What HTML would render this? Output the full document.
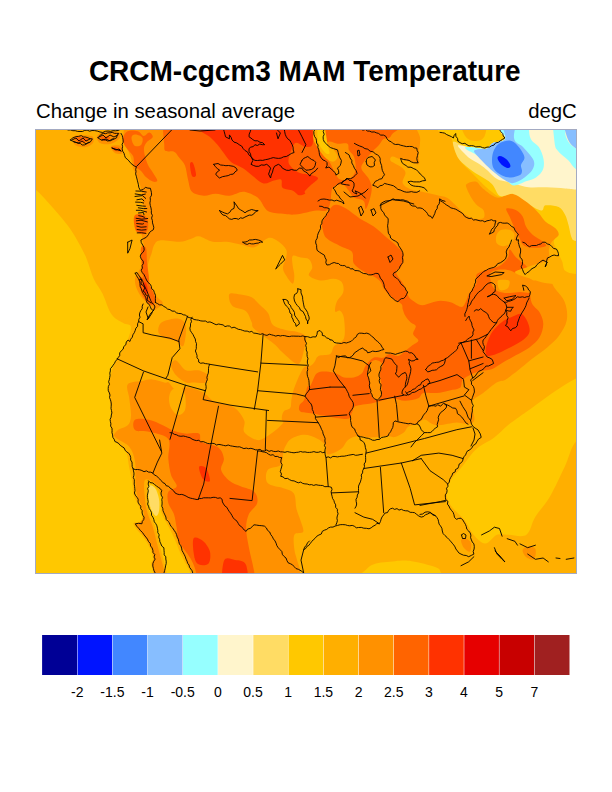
<!DOCTYPE html>
<html><head><meta charset="utf-8"><style>
html,body{margin:0;padding:0;background:#fff;}
svg{display:block;font-family:"Liberation Sans",sans-serif;}
</style></head><body>
<svg width="612" height="792" viewBox="0 0 612 792">
<text x="304.8" y="81" font-size="28" font-weight="bold" text-anchor="middle" transform="translate(0,81) scale(1,1.067) translate(0,-81)">CRCM-cgcm3 MAM Temperature</text>
<text x="36" y="118.2" font-size="20.35">Change in seasonal average</text>
<text x="576.8" y="118.2" font-size="20.35" text-anchor="end">degC</text>
<defs><clipPath id="mc"><rect x="36" y="130" width="540" height="443"/></clipPath></defs>
<g clip-path="url(#mc)">
<rect x="35" y="129" width="542" height="445" fill="#FFAF00"/>
<path d="M90.0,100.0 C6.8,103.0 115.5,111.2 121.0,118.0 C126.5,124.8 122.2,135.7 123.2,140.8 C124.2,145.9 125.9,145.7 127.2,148.6 C128.5,151.5 130.1,155.1 131.1,158.4 C132.1,161.7 132.0,165.3 133.0,168.2 C134.0,171.1 135.7,172.7 137.0,176.0 C138.3,179.3 139.9,183.2 140.9,187.8 C141.9,192.4 142.2,198.6 142.8,203.5 C143.5,208.4 145.1,212.9 144.8,217.2 C144.5,221.4 140.9,222.2 140.9,229.0 C140.9,235.8 146.0,249.7 145.0,258.0 C144.0,266.3 135.7,272.6 135.0,279.0 C134.3,285.4 138.0,291.7 140.9,296.6 C143.8,301.5 151.9,304.5 152.6,308.4 C153.3,312.3 148.8,314.7 145.0,320.0 C141.2,325.3 135.5,333.0 130.0,340.0 C124.5,347.0 115.3,357.4 112.0,362.0 C108.7,366.6 109.4,363.6 109.9,367.8 C110.4,372.0 113.2,380.9 114.8,387.4 C116.4,393.9 120.0,401.1 119.7,407.0 C119.4,412.9 113.9,418.1 113.0,423.0 C112.1,427.9 111.7,432.3 114.4,436.2 C117.1,440.1 125.7,442.3 129.1,446.5 C132.5,450.7 133.9,455.3 135.0,461.2 C136.1,467.1 135.2,476.2 135.5,481.8 C135.8,487.4 136.0,491.0 137.0,495.0 C138.0,499.0 140.3,502.5 141.5,506.0 C142.7,509.5 144.4,513.3 144.0,516.0 C143.6,518.7 140.3,520.5 139.0,522.0 C137.7,523.5 135.3,522.8 136.0,525.0 C136.7,527.2 141.0,532.2 143.0,535.0 C145.0,537.8 146.5,539.0 148.0,541.5 C149.5,544.0 151.0,547.1 152.0,550.0 C153.0,552.9 154.0,556.7 154.0,559.0 C154.0,561.3 152.0,561.7 152.0,564.0 C152.0,566.3 153.7,567.0 154.0,573.0 C154.3,579.0 76.3,595.5 154.0,600.0 C231.7,604.5 542.3,683.3 620.0,600.0 C697.7,516.7 708.3,183.3 620.0,100.0 C531.7,16.7 173.2,97.0 90.0,100.0Z" fill="#FF9100"/>
<path d="M151.7,252.9 C152.8,249.2 153.0,246.7 154.4,244.6 C155.8,242.5 155.8,240.9 160.0,240.4 C164.2,239.9 174.3,242.0 179.4,241.8 C184.5,241.6 187.3,239.9 190.6,239.0 C193.8,238.1 195.2,235.7 198.9,236.2 C202.6,236.7 208.2,240.9 212.8,241.8 C217.4,242.7 222.1,241.3 226.7,241.8 C231.3,242.3 236.0,243.7 240.6,244.6 C245.2,245.5 249.8,248.4 254.4,247.3 C259.0,246.2 264.3,239.0 268.2,238.0 C272.1,237.0 275.0,239.3 278.0,241.2 C281.0,243.1 284.8,246.7 286.1,249.4 C287.5,252.1 286.6,254.6 286.1,257.6 C285.6,260.6 282.9,264.4 282.9,267.4 C282.9,270.4 284.5,272.9 286.1,275.6 C287.7,278.3 291.3,283.7 292.7,283.7 C294.1,283.7 294.3,278.6 294.3,275.6 C294.3,272.6 293.0,269.1 292.7,265.8 C292.4,262.5 291.3,257.3 292.7,255.9 C294.1,254.5 298.1,257.1 300.8,257.6 C303.5,258.2 307.1,257.6 309.0,259.2 C310.9,260.8 312.3,264.7 312.3,267.4 C312.3,270.1 307.6,273.4 309.0,275.6 C310.4,277.8 316.4,280.0 320.5,280.5 C324.6,281.0 330.0,278.5 333.5,278.8 C337.0,279.1 340.1,279.9 341.7,282.1 C343.3,284.3 344.1,288.6 343.3,291.9 C342.5,295.2 338.2,298.4 336.8,301.7 C335.4,305.0 334.6,310.0 335.2,311.5 C335.8,313.0 338.6,309.6 340.1,310.8 C341.6,312.0 343.4,314.0 344.0,318.6 C344.6,323.2 345.6,333.6 344.0,338.2 C342.4,342.8 336.5,343.5 334.2,346.1 C331.9,348.7 332.9,352.3 330.3,353.9 C327.7,355.5 321.1,354.6 318.5,355.9 C315.9,357.2 315.9,360.1 314.6,361.7 C313.3,363.3 312.7,364.5 310.7,365.7 C308.7,366.9 305.8,364.6 302.8,369.0 C299.9,373.4 295.2,384.8 293.0,391.9 C290.8,399.0 291.8,405.9 289.8,411.5 C287.8,417.1 284.5,421.5 280.8,425.6 C277.1,429.7 271.7,433.6 267.7,436.0 C263.7,438.4 260.9,440.7 257.0,440.0 C253.1,439.3 246.3,435.3 244.2,432.0 C242.1,428.7 245.9,424.5 244.2,420.4 C242.5,416.3 238.7,410.4 233.8,407.3 C228.9,404.2 219.7,404.2 214.6,401.7 C209.5,399.2 207.4,394.7 203.0,392.3 C198.6,389.9 192.8,387.8 188.3,387.4 C183.8,387.0 179.4,390.7 176.1,389.9 C172.8,389.1 170.5,383.7 168.7,382.5 C166.9,381.3 168.1,383.2 165.4,382.7 C162.7,382.2 156.1,379.7 152.3,379.4 C148.5,379.1 146.6,380.2 142.5,381.0 C138.4,381.8 130.0,381.3 127.8,384.3 C125.6,387.3 128.9,393.8 129.4,399.0 C129.9,404.2 131.2,411.1 131.0,415.4 C130.8,419.7 130.2,422.6 128.0,425.0 C125.8,427.4 120.5,428.2 118.0,430.0 C115.5,431.8 114.3,434.3 113.0,436.0 C111.7,437.7 113.0,439.3 110.0,440.0 C107.0,440.7 97.5,458.3 95.0,440.0 C92.5,421.7 90.8,350.0 95.0,330.0 C99.2,310.0 112.5,322.3 120.0,320.0 C127.5,317.7 135.0,317.3 140.0,316.0 C145.0,314.7 147.1,313.3 150.0,312.0 C152.9,310.7 155.1,309.9 157.2,308.4 C159.3,306.9 162.8,304.8 162.8,302.9 C162.8,301.0 159.0,299.6 157.2,297.3 C155.3,295.0 153.1,292.2 151.7,289.0 C150.3,285.8 149.6,281.6 148.9,277.9 C148.2,274.2 147.0,271.0 147.5,266.8 C148.0,262.6 150.5,256.6 151.7,252.9Z" fill="#FFAF00"/>
<path d="M300.0,600.0 C246.7,595.5 300.7,579.5 300.3,573.0 C299.9,566.5 298.4,565.1 297.4,561.2 C296.4,557.3 294.9,553.9 294.4,549.5 C293.9,545.1 292.9,537.8 294.4,534.8 C295.9,531.8 302.2,534.3 303.2,531.8 C304.2,529.3 301.4,523.8 300.3,520.0 C299.2,516.2 297.6,513.4 296.5,509.0 C295.4,504.6 296.1,497.1 293.9,493.6 C291.7,490.2 287.8,490.1 283.4,488.3 C279.0,486.6 270.3,486.2 267.7,483.1 C265.1,480.1 265.5,473.1 267.7,470.0 C269.9,466.9 278.2,467.9 280.8,464.8 C283.4,461.8 282.5,455.0 283.4,451.7 C284.3,448.4 284.7,447.4 286.0,445.2 C287.3,443.0 288.2,440.4 291.3,438.7 C294.4,437.0 300.0,434.8 304.3,434.8 C308.6,434.8 313.9,437.0 317.4,438.7 C320.9,440.4 323.6,442.6 325.3,445.2 C327.1,447.8 325.3,453.8 327.9,454.4 C330.5,455.0 337.6,451.5 341.0,449.1 C344.4,446.7 345.2,442.2 348.0,440.0 C350.8,437.8 354.1,436.4 358.0,436.0 C361.9,435.6 366.3,437.4 371.1,437.4 C375.9,437.4 382.8,436.1 386.8,436.0 C390.8,435.9 392.2,437.6 395.0,437.0 C397.8,436.4 401.6,434.3 403.8,432.6 C406.0,430.9 406.0,428.3 408.2,426.8 C410.4,425.3 414.3,425.0 417.0,423.8 C419.7,422.6 421.9,419.4 424.4,419.4 C426.9,419.4 429.4,422.8 431.8,423.8 C434.2,424.8 436.4,425.3 439.1,425.3 C441.8,425.3 444.9,424.3 447.9,423.8 C450.8,423.3 453.4,422.4 456.8,422.4 C460.2,422.4 465.6,424.3 468.5,423.8 C471.4,423.3 473.9,422.6 474.4,419.4 C474.9,416.2 471.5,408.1 471.5,404.7 C471.5,401.3 472.4,400.8 474.4,398.8 C476.3,396.8 479.5,395.6 483.2,392.9 C486.9,390.2 493.0,384.7 496.6,382.5 C500.2,380.3 502.0,381.5 505.0,379.9 C508.0,378.3 512.1,374.8 514.6,373.0 C517.1,371.2 516.9,371.3 519.7,369.0 C522.5,366.7 526.9,362.8 531.5,359.2 C536.1,355.6 542.6,351.3 547.2,347.4 C551.8,343.5 555.7,340.3 559.0,335.7 C562.3,331.1 565.8,325.6 566.8,320.0 C567.8,314.4 566.8,307.5 564.8,302.3 C562.8,297.1 557.6,292.2 555.0,288.6 C552.4,285.0 552.4,281.9 548.9,280.5 C545.4,279.1 538.8,279.9 534.2,280.5 C529.6,281.1 523.6,284.4 521.1,283.8 C518.6,283.2 518.7,278.8 519.5,277.2 C520.3,275.6 522.7,275.9 526.0,274.0 C529.3,272.1 535.3,268.2 539.1,265.8 C542.9,263.4 547.3,262.0 548.9,259.3 C550.5,256.6 548.3,252.5 548.9,249.5 C549.5,246.5 550.6,243.5 552.2,241.3 C553.8,239.1 556.6,238.3 558.7,236.4 C560.8,234.5 562.0,231.4 565.0,230.0 C568.0,228.6 567.8,228.3 577.0,228.0 C586.2,227.7 612.8,166.0 620.0,228.0 C627.2,290.0 673.3,538.0 620.0,600.0 C566.7,662.0 353.3,604.5 300.0,600.0Z" fill="#FFAF00"/>
<path d="M420.2,110.0 C403.6,114.8 420.4,131.7 420.2,139.0 C420.0,146.3 419.0,149.5 418.8,153.7 C418.6,157.9 419.8,162.5 418.8,164.0 C417.8,165.5 415.8,163.2 412.9,162.5 C409.9,161.8 404.5,160.6 401.1,159.6 C397.7,158.6 394.0,156.4 392.3,156.6 C390.6,156.8 389.3,159.3 390.8,161.0 C392.3,162.7 398.7,165.0 401.1,167.0 C403.6,169.0 405.2,170.1 405.5,172.8 C405.8,175.5 401.9,180.4 402.6,183.1 C403.4,185.8 406.6,187.5 410.0,189.0 C413.4,190.5 418.8,191.0 423.2,192.0 C427.6,193.0 432.4,193.9 436.4,194.9 C440.4,195.9 443.8,196.1 447.0,197.8 C450.2,199.5 452.8,202.7 455.6,205.3 C458.4,207.9 460.8,211.3 463.8,213.5 C466.8,215.7 470.3,217.7 473.6,218.4 C476.9,219.2 481.9,219.4 483.5,218.0 C485.1,216.6 484.6,212.3 483.5,210.2 C482.4,208.1 478.9,207.2 477.0,205.3 C475.1,203.4 473.7,201.5 472.0,198.8 C470.3,196.1 467.9,191.5 467.0,189.0 C466.1,186.5 465.2,185.1 466.7,183.9 C468.2,182.7 473.2,180.8 475.9,181.6 C478.6,182.4 479.4,185.8 482.8,188.5 C486.2,191.2 492.7,196.5 496.5,197.6 C500.3,198.7 502.9,196.1 505.6,195.3 C508.3,194.5 510.2,193.0 512.5,193.0 C514.8,193.0 516.5,194.1 519.4,195.3 C522.3,196.5 526.6,200.9 530.0,200.0 C533.4,199.1 541.7,205.0 540.0,190.0 C538.3,175.0 540.0,123.3 520.0,110.0 C500.0,96.7 436.8,105.2 420.2,110.0Z" fill="#FFAF00"/>
<path d="M496.6,234.8 C497.4,232.6 499.3,230.6 501.5,229.8 C503.7,229.0 507.5,229.0 509.7,229.8 C511.9,230.6 514.3,232.6 514.6,234.8 C514.9,237.0 513.2,241.1 511.3,243.0 C509.4,244.9 505.6,246.2 503.1,246.2 C500.7,246.2 497.7,244.9 496.6,243.0 C495.5,241.1 495.8,237.0 496.6,234.8Z" fill="#FFAF00"/>
<path d="M145.0,480.0 C147.0,477.7 154.0,482.0 157.0,485.0 C160.0,488.0 161.9,493.7 163.0,498.0 C164.1,502.3 162.3,506.7 163.5,511.0 C164.7,515.3 167.8,519.6 170.0,524.0 C172.2,528.4 174.5,533.0 176.5,537.5 C178.5,542.0 180.0,546.6 182.0,551.0 C184.0,555.4 186.7,560.3 188.5,564.0 C190.3,567.7 192.2,568.7 193.0,573.0 C193.8,577.3 197.8,587.2 193.0,590.0 C188.2,592.8 168.8,592.8 164.0,590.0 C159.2,587.2 165.1,578.5 164.5,573.0 C163.9,567.5 161.8,562.2 160.5,557.0 C159.2,551.8 157.8,546.7 156.5,541.5 C155.2,536.3 154.0,530.8 152.5,526.0 C151.0,521.2 148.8,517.5 147.5,513.0 C146.2,508.5 145.4,504.5 145.0,499.0 C144.6,493.5 143.0,482.3 145.0,480.0Z" fill="#FFAF00"/>
<path d="M172.0,390.0 C173.8,388.2 177.8,386.2 180.0,387.0 C182.2,387.8 184.2,391.2 185.0,395.0 C185.8,398.8 186.2,406.7 185.0,410.0 C183.8,413.3 180.3,415.3 178.0,415.0 C175.7,414.7 172.5,410.8 171.0,408.0 C169.5,405.2 168.8,401.0 169.0,398.0 C169.2,395.0 170.2,391.8 172.0,390.0Z" fill="#FFAF00"/>
<path d="M260.0,305.0 C262.7,307.6 265.8,309.7 268.0,313.0 C270.2,316.3 270.1,322.2 273.0,325.0 C275.9,327.8 281.5,328.8 285.6,330.0 C289.7,331.2 294.0,330.8 297.4,332.0 C300.8,333.2 304.9,334.0 306.0,337.0 C307.1,340.0 305.3,345.5 304.0,350.0 C302.7,354.5 301.6,363.6 298.0,364.0 C294.4,364.4 286.6,355.9 282.6,352.5 C278.6,349.1 278.5,347.6 273.8,343.7 C269.1,339.8 258.1,332.6 254.4,329.0 C250.7,325.4 253.1,325.3 251.7,322.3 C250.3,319.3 249.2,314.0 246.0,311.2 C242.8,308.4 235.0,308.6 232.2,305.7 C229.4,302.8 228.0,295.9 229.4,294.0 C230.8,292.1 236.9,294.1 240.6,294.6 C244.3,295.2 248.5,295.6 251.7,297.3 C254.9,299.0 257.3,302.4 260.0,305.0Z" fill="#FF9100"/>
<path d="M158.9,326.2 C159.7,324.2 160.5,322.5 163.8,321.3 C167.1,320.1 174.8,318.0 178.5,318.8 C182.2,319.6 185.1,321.7 185.9,326.2 C186.7,330.7 185.0,343.4 183.4,345.8 C181.8,348.2 178.9,342.1 176.1,340.9 C173.2,339.7 169.2,339.6 166.3,338.4 C163.4,337.2 160.1,335.5 158.9,333.5 C157.7,331.5 158.1,328.2 158.9,326.2Z" fill="#FF9100"/>
<path d="M171.2,365.4 C171.2,362.9 173.6,359.7 176.1,360.5 C178.6,361.3 182.2,368.7 185.9,370.3 C189.6,371.9 194.4,369.5 198.1,370.3 C201.8,371.1 206.7,373.2 207.9,375.2 C209.1,377.2 207.9,381.3 205.5,382.5 C203.1,383.7 196.5,382.5 193.2,382.5 C189.9,382.5 188.8,383.7 185.9,382.5 C183.1,381.3 178.6,378.1 176.1,375.2 C173.6,372.3 171.2,367.8 171.2,365.4Z" fill="#FF9100"/>
<path d="M301.4,378.0 C299.3,380.0 299.0,388.9 297.5,391.8 C296.0,394.8 293.6,393.1 292.5,395.7 C291.4,398.3 292.1,404.9 290.6,407.5 C289.1,410.1 285.2,409.4 283.7,411.4 C282.2,413.3 281.6,416.9 281.8,419.2 C282.0,421.5 285.0,423.0 284.7,425.1 C284.4,427.2 277.2,430.9 279.8,432.0 C282.4,433.1 293.3,433.2 300.0,432.0 C306.7,430.8 318.0,428.7 320.0,425.0 C322.0,421.3 314.5,415.0 312.0,410.0 C309.5,405.0 305.3,400.0 305.0,395.0 C304.7,390.0 310.6,382.8 310.0,380.0 C309.4,377.2 303.5,376.0 301.4,378.0Z" fill="#FF9100"/>
<path d="M73.0,137.0 C74.2,135.8 77.5,135.2 80.0,135.0 C82.5,134.8 85.8,135.2 88.0,135.5 C90.2,135.8 92.2,135.8 93.0,137.0 C93.8,138.2 94.2,141.3 93.0,143.0 C91.8,144.7 88.7,146.5 86.0,147.0 C83.3,147.5 79.2,146.8 77.0,146.0 C74.8,145.2 73.7,143.5 73.0,142.0 C72.3,140.5 71.8,138.2 73.0,137.0Z" fill="#FF9100"/>
<path d="M97.0,136.0 C97.7,134.2 101.2,132.8 104.0,132.0 C106.8,131.2 111.3,131.3 114.0,131.5 C116.7,131.7 119.2,131.8 120.0,133.0 C120.8,134.2 120.7,137.2 119.0,139.0 C117.3,140.8 113.2,143.3 110.0,144.0 C106.8,144.7 102.2,144.3 100.0,143.0 C97.8,141.7 96.3,137.8 97.0,136.0Z" fill="#FF9100"/>
<path d="M110.8,147.0 C111.0,145.7 114.1,145.3 116.0,145.3 C117.9,145.3 121.2,145.6 122.2,147.0 C123.2,148.4 123.2,152.5 122.0,153.5 C120.8,154.5 116.9,154.1 115.0,153.0 C113.1,151.9 110.6,148.3 110.8,147.0Z" fill="#FF9100"/>
<path d="M163.0,110.0 C124.3,113.2 162.8,123.3 163.0,129.0 C163.2,134.7 163.8,140.3 164.2,143.9 C164.6,147.5 163.6,149.4 165.3,150.7 C167.0,152.0 172.2,150.8 174.5,151.9 C176.8,153.1 177.3,155.3 179.1,157.6 C180.8,159.9 183.5,161.9 185.0,165.6 C186.5,169.3 186.9,175.7 188.1,180.0 C189.3,184.3 189.4,189.1 192.0,191.7 C194.6,194.3 199.9,195.4 203.8,195.7 C207.7,196.0 211.3,193.7 215.6,193.7 C219.8,193.7 224.7,196.0 229.3,195.7 C233.9,195.4 238.8,191.7 243.0,191.7 C247.2,191.7 252.0,194.3 254.8,195.7 C257.6,197.1 257.8,197.4 260.0,200.0 C262.2,202.6 264.1,208.9 268.3,211.2 C272.5,213.5 280.6,213.4 285.0,214.0 C289.4,214.6 291.4,214.8 295.0,214.5 C298.6,214.2 303.2,213.2 306.8,212.5 C310.4,211.8 313.3,210.9 316.6,210.6 C319.9,210.3 324.1,211.9 326.4,210.6 C328.7,209.3 329.2,206.5 330.3,202.7 C331.4,198.9 330.7,190.8 332.7,187.8 C334.7,184.8 339.8,184.1 342.5,184.6 C345.2,185.1 347.1,188.9 349.0,191.1 C350.9,193.3 351.4,196.0 353.9,197.6 C356.3,199.2 361.7,199.0 363.7,200.9 C365.7,202.8 364.7,209.5 365.8,209.0 C366.9,208.5 369.2,201.4 370.2,197.8 C371.2,194.2 371.9,190.7 371.7,187.5 C371.5,184.3 370.5,181.9 368.8,178.7 C367.1,175.5 362.1,171.3 361.4,168.4 C360.7,165.5 362.7,163.7 364.4,161.0 C366.1,158.3 369.3,154.9 371.7,152.2 C374.1,149.5 377.0,147.1 379.0,144.9 C381.0,142.7 381.4,140.7 383.5,139.0 C385.6,137.3 389.6,139.7 391.5,134.9 C393.4,130.1 433.1,114.2 395.0,110.0 C356.9,105.8 201.7,106.8 163.0,110.0Z" fill="#FF6400"/>
<path d="M123.0,138.2 C123.6,136.1 125.1,132.5 127.6,131.3 C130.1,130.2 135.2,130.5 137.9,131.3 C140.6,132.1 141.7,135.7 143.6,135.9 C145.5,136.1 147.8,132.2 149.3,132.4 C150.8,132.6 153.2,135.4 152.8,137.0 C152.4,138.6 148.5,140.2 147.0,142.0 C145.5,143.8 144.3,145.7 144.0,148.0 C143.7,150.3 144.3,153.2 145.0,156.0 C145.7,158.8 146.7,162.2 148.0,165.0 C149.3,167.8 151.2,169.9 152.8,172.5 C154.4,175.1 157.3,179.0 157.3,180.5 C157.3,182.0 154.7,182.2 152.8,181.6 C150.9,181.0 147.8,178.8 145.9,177.1 C144.0,175.4 143.2,173.2 141.3,171.3 C139.4,169.4 135.8,168.1 134.5,165.6 C133.2,163.1 134.4,159.1 133.3,156.5 C132.2,153.9 129.6,152.1 128.0,150.0 C126.5,147.9 124.8,146.0 124.0,144.0 C123.2,142.0 122.4,140.3 123.0,138.2Z" fill="#FF6400"/>
<path d="M132.0,136.0 C132.8,134.9 135.2,134.4 137.0,134.7 C138.8,135.0 141.8,136.3 142.5,138.0 C143.2,139.7 142.2,143.7 141.0,145.0 C139.8,146.3 136.5,146.7 135.0,146.0 C133.5,145.3 132.5,142.7 132.0,141.0 C131.5,139.3 131.2,137.1 132.0,136.0Z" fill="#FF9100"/>
<path d="M322.5,222.3 C323.8,219.0 328.0,211.5 330.3,208.6 C332.6,205.7 333.6,204.7 336.2,204.7 C338.8,204.7 342.1,206.3 346.0,208.6 C349.9,210.9 355.1,215.4 359.7,218.4 C364.3,221.4 368.8,223.0 373.4,226.3 C378.0,229.6 383.3,234.7 387.2,238.0 C391.1,241.3 394.1,243.5 396.8,246.2 C399.5,248.9 402.5,251.1 403.3,254.4 C404.1,257.7 402.9,262.9 401.7,265.8 C400.5,268.7 395.8,269.1 396.0,272.0 C396.2,274.9 400.9,280.0 402.7,283.1 C404.5,286.2 405.5,288.5 406.6,290.9 C407.7,293.3 407.7,295.5 409.2,297.5 C410.7,299.5 413.6,301.4 415.8,302.7 C418.0,304.0 419.7,305.3 422.3,305.3 C424.9,305.3 428.3,303.5 431.4,302.7 C434.4,301.9 437.3,300.7 440.6,300.7 C443.9,300.7 447.9,301.4 451.4,302.5 C454.9,303.6 459.2,307.2 461.7,307.0 C464.1,306.8 464.9,303.2 466.1,301.0 C467.3,298.8 467.3,296.6 469.0,293.7 C470.7,290.8 475.1,286.7 476.4,283.4 C477.7,280.1 474.7,276.4 477.0,274.0 C479.3,271.6 486.2,270.4 490.0,269.0 C493.8,267.6 497.0,267.7 500.0,265.8 C503.0,263.9 506.4,260.3 508.0,257.6 C509.6,254.9 508.3,249.5 509.7,249.5 C511.1,249.5 513.5,254.9 516.2,257.6 C518.9,260.3 523.8,263.6 526.0,265.8 C528.2,268.0 528.7,267.9 529.3,270.7 C529.9,273.5 529.1,277.4 529.5,282.7 C529.9,288.0 529.9,297.4 531.5,302.3 C533.1,307.2 537.4,308.5 539.4,312.1 C541.4,315.7 543.3,319.6 543.3,323.9 C543.3,328.1 541.7,333.7 539.4,337.6 C537.1,341.5 533.4,344.4 529.5,347.4 C525.6,350.3 520.4,352.7 515.8,355.3 C511.2,357.9 506.0,360.8 502.1,363.1 C498.2,365.4 495.8,367.7 492.3,369.0 C488.8,370.3 484.6,370.1 481.0,371.0 C477.4,371.9 473.6,373.2 470.5,374.7 C467.4,376.2 464.4,377.7 462.6,379.9 C460.9,382.1 462.2,386.1 460.0,387.8 C457.8,389.6 453.5,389.5 449.6,390.4 C445.7,391.3 440.9,392.6 436.5,393.0 C432.1,393.4 426.4,392.1 423.4,393.0 C420.3,393.9 421.2,396.9 418.2,398.2 C415.1,399.5 409.5,400.8 405.1,400.8 C400.8,400.8 396.0,398.2 392.1,398.2 C388.2,398.2 385.1,399.9 381.6,400.8 C378.1,401.7 375.5,402.5 371.1,403.4 C366.8,404.3 358.7,404.6 355.5,406.1 C352.3,407.7 353.5,410.6 351.9,412.7 C350.3,414.8 352.8,418.9 346.0,419.0 C339.2,419.1 318.8,414.6 311.2,413.3 C303.6,412.0 302.4,412.7 300.4,411.4 C298.4,410.1 298.8,407.5 299.4,405.5 C300.0,403.5 303.0,402.7 304.3,399.6 C305.6,396.5 306.2,389.3 307.3,386.9 C308.4,384.5 309.1,387.5 310.7,385.3 C312.2,383.1 314.0,375.8 316.6,373.5 C319.2,371.2 323.1,371.5 326.4,371.5 C329.7,371.5 333.3,372.5 336.2,373.5 C339.1,374.5 341.1,376.8 344.0,377.4 C346.9,378.0 350.9,378.0 353.8,377.4 C356.8,376.8 359.7,375.4 361.7,373.5 C363.7,371.6 363.7,368.3 365.6,365.7 C367.6,363.1 370.5,359.1 373.4,357.8 C376.3,356.5 380.6,358.5 383.2,357.8 C385.8,357.1 386.6,354.2 389.1,353.9 C391.6,353.6 395.3,356.5 398.0,356.0 C400.7,355.5 403.0,352.7 405.3,351.0 C407.6,349.3 409.6,347.5 411.8,345.8 C414.0,344.1 418.2,342.6 418.4,340.6 C418.6,338.6 413.5,336.4 413.1,334.0 C412.7,331.6 416.2,328.1 415.8,326.2 C415.4,324.2 412.2,324.0 410.5,322.3 C408.8,320.6 406.6,318.0 405.3,315.8 C404.0,313.6 403.4,311.2 402.7,309.2 C402.0,307.2 403.1,305.9 401.4,304.0 C399.6,302.1 395.0,299.9 392.2,297.5 C389.4,295.1 386.3,292.2 384.4,289.6 C382.4,287.0 382.2,284.0 380.5,281.8 C378.8,279.6 376.7,278.2 373.9,276.5 C371.1,274.8 367.0,273.6 363.6,271.4 C360.2,269.2 355.8,266.8 353.8,263.5 C351.9,260.2 354.2,254.6 351.9,251.7 C349.6,248.8 344.2,248.2 340.0,245.9 C335.8,243.6 329.3,240.9 326.4,238.0 C323.5,235.1 323.1,230.8 322.5,228.2 C321.9,225.6 321.2,225.6 322.5,222.3Z" fill="#FF6400"/>
<path d="M506.4,208.6 C507.5,207.5 513.5,208.8 516.2,210.2 C518.9,211.6 521.2,214.1 522.8,216.8 C524.4,219.5 524.4,223.6 526.0,226.6 C527.6,229.6 529.9,232.4 532.6,234.8 C535.3,237.2 540.2,239.4 542.4,241.3 C544.6,243.2 547.5,245.1 545.6,246.2 C543.7,247.3 534.7,248.1 530.9,247.8 C527.1,247.5 524.7,246.2 522.8,244.6 C520.9,243.0 520.9,240.7 519.5,238.0 C518.1,235.3 516.2,231.7 514.6,228.2 C513.0,224.7 511.1,220.1 509.7,216.8 C508.3,213.5 505.3,209.7 506.4,208.6Z" fill="#FF6400"/>
<path d="M135.0,419.7 C137.3,418.0 144.3,418.8 148.9,419.7 C153.5,420.6 158.6,423.3 162.8,425.2 C167.0,427.1 170.2,429.4 173.9,430.8 C177.6,432.2 180.8,433.1 185.0,433.6 C189.2,434.1 196.1,432.2 198.9,433.6 C201.7,435.0 198.5,439.6 201.7,441.9 C204.9,444.2 214.6,444.6 218.3,447.4 C222.0,450.2 223.4,454.9 223.9,458.6 C224.4,462.3 220.2,466.0 221.1,469.7 C222.0,473.4 226.2,478.0 229.4,480.8 C232.7,483.6 236.4,484.5 240.6,486.3 C244.8,488.1 251.6,489.1 254.4,491.9 C257.2,494.7 258.1,499.3 257.2,503.0 C256.3,506.7 250.8,509.9 248.9,514.1 C247.1,518.3 246.1,522.5 246.1,528.0 C246.1,533.5 247.5,539.9 248.9,547.4 C250.3,554.9 253.4,565.9 254.4,573.0 C255.4,580.1 264.7,587.2 255.0,590.0 C245.3,592.8 205.8,592.8 196.0,590.0 C186.2,587.2 197.0,578.2 196.1,573.0 C195.2,567.8 193.4,563.8 190.6,558.6 C187.8,553.4 181.7,547.0 179.4,541.9 C177.1,536.8 177.6,532.6 176.7,528.0 C175.8,523.4 175.3,518.3 173.9,514.1 C172.5,509.9 169.2,506.7 168.3,503.0 C167.4,499.3 166.9,494.7 168.3,491.9 C169.7,489.1 176.2,489.1 176.7,486.3 C177.2,483.5 172.5,479.8 171.1,475.2 C169.7,470.6 168.8,464.6 168.3,458.6 C167.8,452.6 171.4,443.5 168.3,439.1 C165.2,434.7 155.6,433.5 150.0,432.0 C144.4,430.5 137.5,432.1 135.0,430.0 C132.5,427.9 132.7,421.4 135.0,419.7Z" fill="#FF6400"/>
<path d="M370.9,362.6 C369.5,364.7 367.9,369.4 367.6,372.4 C367.3,375.4 368.6,377.6 369.2,380.6 C369.8,383.6 370.3,387.7 370.9,390.4 C371.4,393.1 371.4,395.3 372.5,396.9 C373.6,398.5 376.0,400.2 377.4,400.2 C378.8,400.2 380.0,399.1 380.7,396.9 C381.4,394.7 381.8,390.9 381.7,387.1 C381.6,383.3 379.9,377.8 380.0,374.0 C380.1,370.2 383.0,366.5 382.3,364.2 C381.6,361.9 377.9,360.3 376.0,360.0 C374.1,359.7 372.3,360.5 370.9,362.6Z" fill="#FF9100"/>
<path d="M461.0,540.0 C461.3,538.5 464.3,538.2 466.0,538.7 C467.7,539.2 470.3,540.9 471.0,543.0 C471.7,545.1 471.2,550.8 470.0,551.6 C468.8,552.4 465.5,549.9 464.0,548.0 C462.5,546.1 460.7,541.5 461.0,540.0Z" fill="#FF9100"/>
<path d="M491.8,527.0 C492.3,525.3 495.3,523.2 497.0,523.0 C498.7,522.8 501.3,524.2 502.0,526.0 C502.7,527.8 502.3,532.4 501.0,533.6 C499.7,534.8 495.5,534.1 494.0,533.0 C492.5,531.9 491.3,528.7 491.8,527.0Z" fill="#FF9100"/>
<path d="M522.6,550.0 C522.9,548.2 525.9,546.6 528.0,546.4 C530.1,546.2 534.4,546.9 535.4,549.0 C536.4,551.1 535.6,558.0 534.0,559.3 C532.4,560.6 527.9,558.5 526.0,557.0 C524.1,555.5 522.3,551.8 522.6,550.0Z" fill="#FF9100"/>
<path d="M490.0,274.0 C490.7,271.2 494.0,270.7 497.0,270.0 C500.0,269.3 504.8,269.5 508.0,270.0 C511.2,270.5 513.2,272.0 516.0,273.0 C518.8,274.0 522.0,274.7 525.0,276.0 C528.0,277.3 531.0,278.8 534.0,281.0 C537.0,283.2 542.0,287.2 543.0,289.0 C544.0,290.8 542.2,291.3 540.0,292.0 C537.8,292.7 533.3,293.0 530.0,293.0 C526.7,293.0 523.3,292.0 520.0,292.0 C516.7,292.0 513.3,293.0 510.0,293.0 C506.7,293.0 502.8,293.0 500.0,292.0 C497.2,291.0 494.7,290.0 493.0,287.0 C491.3,284.0 489.3,276.8 490.0,274.0Z" fill="#FF9100"/>
<path d="M497.7,281.1 C498.3,279.6 500.9,279.8 502.9,279.8 C504.8,279.8 508.5,279.8 509.4,281.1 C510.3,282.4 509.2,286.2 508.1,287.7 C507.0,289.2 504.4,290.1 502.9,290.3 C501.4,290.5 499.9,290.5 499.0,289.0 C498.1,287.5 497.1,282.6 497.7,281.1Z" fill="#FFAF00"/>
<path d="M515.0,272.0 C515.5,270.7 520.8,269.5 525.0,268.0 C529.2,266.5 534.2,264.7 540.0,263.0 C545.8,261.3 553.8,259.2 560.0,258.0 C566.2,256.8 574.2,252.0 577.0,256.0 C579.8,260.0 579.8,277.3 577.0,282.0 C574.2,286.7 565.3,283.8 560.0,284.0 C554.7,284.2 549.7,283.8 545.0,283.0 C540.3,282.2 535.8,280.2 532.0,279.0 C528.2,277.8 524.8,277.2 522.0,276.0 C519.2,274.8 514.5,273.3 515.0,272.0Z" fill="#FFAF00"/>
<path d="M134.0,217.0 C134.7,214.2 137.8,213.8 140.0,214.0 C142.2,214.2 145.7,215.7 147.0,218.0 C148.3,220.3 148.5,225.3 148.0,228.0 C147.5,230.7 146.0,233.5 144.0,234.0 C142.0,234.5 137.7,233.8 136.0,231.0 C134.3,228.2 133.3,219.8 134.0,217.0Z" fill="#FF6400"/>
<path d="M141.0,248.0 C141.7,244.7 145.0,245.7 146.0,248.0 C147.0,250.3 146.5,256.7 147.0,262.0 C147.5,267.3 149.0,275.2 149.0,280.0 C149.0,284.8 147.8,290.5 147.0,291.0 C146.2,291.5 144.8,286.8 144.0,283.0 C143.2,279.2 142.5,273.8 142.0,268.0 C141.5,262.2 140.3,251.3 141.0,248.0Z" fill="#FF6400"/>
<path d="M139.0,278.0 C139.7,275.8 143.0,277.3 145.0,279.0 C147.0,280.7 149.3,284.8 151.0,288.0 C152.7,291.2 154.7,295.2 155.0,298.0 C155.3,300.8 154.3,304.3 153.0,305.0 C151.7,305.7 149.0,304.2 147.0,302.0 C145.0,299.8 142.3,296.0 141.0,292.0 C139.7,288.0 138.3,280.2 139.0,278.0Z" fill="#FF6400"/>
<path d="M75.0,138.0 C75.8,137.2 80.8,136.8 83.0,137.0 C85.2,137.2 87.5,138.2 88.0,139.0 C88.5,139.8 87.7,141.5 86.0,142.0 C84.3,142.5 79.8,142.7 78.0,142.0 C76.2,141.3 74.2,138.8 75.0,138.0Z" fill="#FF6400"/>
<path d="M100.0,137.0 C100.7,136.2 106.3,135.7 108.0,136.0 C109.7,136.3 110.7,138.2 110.0,139.0 C109.3,139.8 105.7,141.3 104.0,141.0 C102.3,140.7 99.3,137.8 100.0,137.0Z" fill="#FF6400"/>
<path d="M112.0,147.0 C112.7,146.5 117.5,147.3 119.0,148.0 C120.5,148.7 121.7,150.5 121.0,151.0 C120.3,151.5 116.5,151.7 115.0,151.0 C113.5,150.3 111.3,147.5 112.0,147.0Z" fill="#FF6400"/>
<path d="M199.9,110.0 C181.6,113.2 198.3,124.5 199.9,129.0 C201.5,133.5 206.8,134.2 209.7,136.8 C212.6,139.4 215.2,142.1 217.5,144.7 C219.8,147.3 221.1,149.6 223.4,152.5 C225.7,155.4 228.0,159.7 231.3,162.3 C234.6,164.9 239.4,165.9 243.0,168.2 C246.6,170.5 249.4,173.5 252.8,176.0 C256.2,178.5 260.0,182.7 263.5,183.4 C267.0,184.2 270.9,181.1 273.8,180.5 C276.8,179.9 279.7,178.5 281.2,179.7 C282.7,180.9 280.6,186.0 282.6,187.8 C284.6,189.7 290.3,189.6 293.0,190.8 C295.7,192.0 296.8,194.7 298.8,195.2 C300.8,195.7 304.0,194.4 305.0,193.7 C306.0,193.0 303.8,192.6 304.9,191.1 C306.0,189.6 309.2,186.8 311.4,184.6 C313.6,182.4 318.3,179.6 318.0,178.0 C317.7,176.4 312.8,175.6 309.8,174.8 C306.8,174.0 303.1,174.4 300.0,173.1 C296.9,171.8 293.4,169.4 291.5,167.2 C289.6,165.0 288.0,163.9 288.5,160.0 C289.0,156.1 292.2,146.2 294.4,143.7 C296.6,141.2 299.8,144.6 301.8,145.2 C303.8,145.8 304.6,147.5 306.5,147.0 C308.4,146.5 312.4,148.2 313.0,142.0 C313.6,135.8 328.7,115.3 309.8,110.0 C290.9,104.7 218.2,106.8 199.9,110.0Z" fill="#FF3200"/>
<path d="M190.0,164.0 C190.2,161.8 192.0,161.2 193.0,163.0 C194.0,164.8 196.2,172.8 196.0,175.0 C195.8,177.2 193.0,177.8 192.0,176.0 C191.0,174.2 189.8,166.2 190.0,164.0Z" fill="#FF3200"/>
<path d="M143.0,284.0 C143.2,282.3 145.2,281.7 146.0,283.0 C146.8,284.3 148.2,290.3 148.0,292.0 C147.8,293.7 145.8,294.3 145.0,293.0 C144.2,291.7 142.8,285.7 143.0,284.0Z" fill="#FF3200"/>
<path d="M486.4,345.5 C487.4,341.6 489.7,335.6 492.3,331.7 C494.9,327.8 498.5,324.5 502.1,321.9 C505.7,319.3 510.6,317.3 513.9,316.0 C517.2,314.7 519.4,313.1 521.7,314.1 C524.0,315.1 526.3,319.1 527.6,322.0 C528.9,324.9 530.1,328.8 529.5,331.7 C528.9,334.6 526.3,337.3 523.7,339.6 C521.1,341.9 517.5,343.5 513.9,345.5 C510.3,347.5 505.7,349.8 502.1,351.4 C498.5,353.0 494.9,354.6 492.3,355.3 C489.7,356.0 487.4,356.9 486.4,355.3 C485.4,353.7 485.4,349.4 486.4,345.5Z" fill="#FF3200"/>
<path d="M193.3,539.0 C194.5,535.5 200.2,538.8 203.0,541.0 C205.8,543.2 209.2,548.2 210.0,552.0 C210.8,555.8 210.3,562.3 208.0,564.0 C205.7,565.7 198.4,566.2 196.0,562.0 C193.6,557.8 192.1,542.5 193.3,539.0Z" fill="#FF3200"/>
<path d="M223.9,561.0 C225.7,556.0 231.3,559.3 235.0,560.0 C238.7,560.7 244.3,560.0 246.1,565.0 C247.9,570.0 249.7,585.8 246.0,590.0 C242.3,594.2 227.7,594.8 224.0,590.0 C220.3,585.2 222.1,566.0 223.9,561.0Z" fill="#FF3200"/>
<path d="M199.0,467.0 C199.5,465.2 204.2,465.7 206.0,468.0 C207.8,470.3 210.5,479.0 210.0,480.8 C209.5,482.6 204.8,481.3 203.0,479.0 C201.2,476.7 198.5,468.8 199.0,467.0Z" fill="#FF3200"/>
<path d="M327.8,142.0 C330.2,140.4 334.3,143.4 337.6,143.7 C340.9,144.0 345.5,142.6 347.4,143.7 C349.3,144.8 347.9,148.0 349.0,150.2 C350.1,152.4 352.9,153.5 354.0,156.8 C355.1,160.1 356.2,166.3 355.6,169.8 C355.1,173.3 353.2,176.3 350.7,178.0 C348.2,179.7 343.2,180.2 340.8,179.7 C338.4,179.2 337.9,177.8 336.0,174.8 C334.1,171.8 331.6,165.2 329.4,161.7 C327.2,158.1 323.2,156.8 322.9,153.5 C322.6,150.2 325.4,143.6 327.8,142.0Z" fill="#FF9100"/>
<path d="M314.7,110.0 C316.6,105.8 322.9,105.2 324.5,110.0 C326.1,114.8 323.1,132.4 324.5,138.8 C325.9,145.2 330.5,145.6 332.7,148.6 C334.9,151.6 337.6,154.6 337.6,156.8 C337.6,159.0 334.9,161.7 332.7,161.7 C330.5,161.7 327.2,159.5 324.5,156.8 C321.8,154.1 318.2,148.9 316.3,145.3 C314.4,141.8 313.3,141.4 313.0,135.5 C312.7,129.6 312.8,114.2 314.7,110.0Z" fill="#FFAF00"/>
<path d="M318.0,120.0 C318.8,116.6 321.4,115.8 323.0,120.0 C324.6,124.2 326.7,139.7 327.8,145.3 C328.9,150.9 329.9,152.4 329.4,153.5 C328.8,154.6 326.4,154.1 324.5,151.9 C322.6,149.7 319.1,145.7 318.0,140.4 C316.9,135.1 317.2,123.4 318.0,120.0Z" fill="#FFC800"/>
<path d="M20.0,180.0 C22.5,113.2 30.5,185.8 35.0,189.3 C39.5,192.8 42.9,196.8 46.8,201.0 C50.7,205.2 54.6,209.6 58.5,214.3 C62.4,219.0 66.9,224.1 70.3,229.0 C73.7,233.9 76.4,238.8 79.1,243.7 C81.8,248.6 84.0,252.5 86.5,258.4 C89.0,264.3 91.1,273.1 93.8,279.0 C96.5,284.9 99.6,287.8 102.6,293.7 C105.5,299.6 108.1,309.4 111.5,314.3 C114.9,319.2 120.0,321.0 123.2,323.1 C126.5,325.2 130.5,323.6 131.0,327.0 C131.5,330.4 128.2,338.9 126.2,343.7 C124.2,348.4 121.0,351.6 118.8,355.5 C116.6,359.4 114.5,363.3 113.0,367.2 C111.5,371.1 110.8,375.1 110.0,379.0 C109.2,382.9 108.5,386.9 108.5,390.8 C108.5,394.7 109.6,398.6 110.0,402.5 C110.4,406.4 110.9,410.2 111.0,414.0 C111.1,417.8 110.3,421.3 110.5,425.0 C110.7,428.7 110.8,432.9 112.0,436.0 C113.2,439.1 115.0,440.9 117.4,443.6 C119.8,446.3 124.2,448.5 126.2,452.4 C128.2,456.3 128.0,461.8 129.1,467.1 C130.2,472.4 131.8,479.4 132.5,484.0 C133.2,488.6 132.4,491.2 133.5,495.0 C134.6,498.8 137.6,502.8 139.0,506.5 C140.4,510.2 141.8,514.4 142.0,517.0 C142.2,519.6 141.4,521.0 140.0,522.0 C138.6,523.0 134.1,521.8 133.5,523.0 C132.9,524.2 135.0,526.8 136.5,529.0 C138.0,531.2 140.8,533.8 142.5,536.0 C144.2,538.2 145.6,540.1 147.0,542.5 C148.4,544.9 150.0,547.8 151.0,550.5 C152.0,553.2 153.0,556.8 153.0,559.0 C153.0,561.2 151.0,561.7 151.0,564.0 C151.0,566.3 153.2,568.7 153.0,573.0 C152.8,577.3 172.2,587.2 150.0,590.0 C127.8,592.8 41.7,658.3 20.0,590.0 C-1.7,521.7 17.5,246.8 20.0,180.0Z" fill="#FFC800"/>
<path d="M148.3,483.5 C149.8,481.6 153.9,484.8 156.1,487.4 C158.3,490.0 160.5,495.0 161.4,499.1 C162.3,503.2 160.3,507.8 161.4,512.2 C162.5,516.6 165.7,520.9 167.9,525.3 C170.1,529.7 172.4,534.0 174.4,538.4 C176.4,542.8 177.7,547.0 179.7,551.4 C181.7,555.8 184.5,560.9 186.2,564.5 C187.9,568.1 189.5,568.8 190.1,573.0 C190.7,577.2 193.9,587.2 190.0,590.0 C186.1,592.8 170.5,592.8 166.6,590.0 C162.7,587.2 167.2,578.5 166.6,573.0 C165.9,567.5 164.0,562.0 162.7,556.7 C161.4,551.4 160.1,546.2 158.8,541.0 C157.5,535.8 156.3,530.1 154.8,525.3 C153.3,520.5 150.9,516.6 149.6,512.2 C148.3,507.8 147.2,503.9 147.0,499.1 C146.8,494.3 146.8,485.4 148.3,483.5Z" fill="#FFC800"/>
<path d="M149.0,486.0 C150.1,484.3 153.3,485.8 155.0,488.0 C156.7,490.2 158.3,495.2 159.0,499.0 C159.7,502.8 159.5,508.2 159.0,511.0 C158.5,513.8 157.3,516.3 156.0,516.0 C154.7,515.7 152.2,512.0 151.0,509.0 C149.8,506.0 148.8,501.8 148.5,498.0 C148.2,494.2 147.9,487.7 149.0,486.0Z" fill="#FFDC64"/>
<path d="M447.0,496.5 C446.5,492.1 447.6,486.7 450.0,481.8 C452.4,476.9 458.3,471.5 461.7,467.1 C465.1,462.7 467.6,458.8 470.5,455.4 C473.4,452.0 475.5,449.4 479.4,446.5 C483.3,443.6 489.4,441.1 494.0,437.7 C498.6,434.3 503.6,428.9 507.0,426.0 C510.4,423.1 509.9,423.6 514.6,420.2 C519.3,416.8 528.3,410.4 535.2,405.5 C542.1,400.6 548.8,395.4 555.8,390.8 C562.8,386.2 569.6,381.5 577.0,378.0 C584.4,374.5 596.2,359.7 600.0,370.0 C603.8,380.3 603.8,428.2 600.0,440.0 C596.2,451.8 582.9,436.1 577.0,440.6 C571.1,445.1 569.1,457.8 564.6,467.1 C560.1,476.4 554.9,488.2 550.0,496.5 C545.1,504.8 539.1,510.7 535.2,517.1 C531.3,523.5 530.8,531.8 526.4,534.8 C522.0,537.8 513.7,534.8 508.8,534.8 C503.9,534.8 500.9,533.3 497.0,534.8 C493.1,536.3 489.1,543.6 485.2,543.6 C481.3,543.6 476.9,538.7 473.5,534.8 C470.1,530.9 468.0,524.4 464.6,520.0 C461.2,515.6 455.8,512.2 452.9,508.3 C450.0,504.4 447.5,500.9 447.0,496.5Z" fill="#FFC800"/>
<path d="M340.0,590.0 C326.2,587.2 356.4,577.3 362.0,573.0 C367.6,568.7 368.3,566.2 373.8,564.2 C379.3,562.2 388.7,561.7 395.0,561.2 C401.3,560.7 405.0,560.2 411.7,561.2 C418.4,562.2 430.3,565.1 435.2,567.1 C440.1,569.1 439.5,569.2 441.1,573.0 C442.7,576.8 461.9,587.2 445.0,590.0 C428.1,592.8 353.8,592.8 340.0,590.0Z" fill="#FFC800"/>
<path d="M437.0,110.0 C464.2,106.8 572.8,82.7 600.0,110.0 C627.2,137.3 603.8,246.7 600.0,274.0 C596.2,301.3 582.8,274.6 577.0,274.0 C571.2,273.4 567.7,272.9 565.2,270.7 C562.7,268.5 563.4,264.2 562.0,260.9 C560.6,257.6 558.4,254.4 557.0,251.1 C555.6,247.8 553.5,244.0 553.8,241.3 C554.1,238.6 558.4,237.0 558.7,234.8 C559.0,232.6 557.6,230.4 555.4,228.2 C553.2,226.0 548.3,224.1 545.6,221.7 C542.9,219.2 541.4,216.2 539.0,213.5 C536.6,210.8 534.2,208.3 531.0,205.3 C527.8,202.3 523.0,197.4 519.5,195.5 C516.0,193.6 513.2,193.8 510.0,194.0 C506.8,194.2 503.0,197.3 500.0,197.0 C497.0,196.7 494.4,193.8 492.0,192.0 C489.6,190.2 487.8,188.7 485.4,186.5 C483.0,184.3 480.2,181.3 477.6,178.7 C475.0,176.1 472.3,173.4 469.7,170.8 C467.1,168.2 464.1,165.6 461.9,163.0 C459.7,160.4 458.2,158.4 456.7,155.1 C455.2,151.8 453.7,146.2 452.8,143.4 C451.9,140.6 452.7,139.9 451.4,138.2 C450.1,136.4 447.3,134.4 444.9,132.9 C442.5,131.4 438.3,132.8 437.0,129.0 C435.7,125.2 409.8,113.2 437.0,110.0Z" fill="#FFC800"/>
<path d="M464.0,127.0 C467.3,125.8 480.5,125.7 484.0,127.0 C487.5,128.3 485.7,132.8 485.0,135.0 C484.3,137.2 482.5,139.7 480.0,140.5 C477.5,141.3 472.7,141.1 470.0,140.0 C467.3,138.9 465.0,136.2 464.0,134.0 C463.0,131.8 460.7,128.2 464.0,127.0Z" fill="#FFAF00"/>
<path d="M453.0,142.0 C453.7,139.9 459.5,144.2 462.0,145.0 C464.5,145.8 465.3,146.5 468.0,147.0 C470.7,147.5 474.8,147.7 478.0,148.0 C481.2,148.3 484.7,149.4 487.0,148.6 C489.3,147.8 490.2,144.5 492.0,143.4 C493.8,142.3 496.0,142.6 498.0,142.0 C500.0,141.4 502.8,140.8 504.0,140.0 C505.2,139.2 505.7,138.7 505.0,137.0 C504.3,135.3 501.2,134.5 500.0,130.0 C498.8,125.5 481.3,113.3 498.0,110.0 C514.7,106.7 583.0,87.5 600.0,110.0 C617.0,132.5 603.8,223.1 600.0,245.0 C596.2,266.9 581.7,242.5 577.0,241.3 C572.3,240.1 573.2,240.7 571.8,238.0 C570.4,235.3 569.6,228.8 568.5,225.0 C567.4,221.2 566.8,218.1 565.2,215.1 C563.6,212.1 562.0,208.6 558.7,207.0 C555.4,205.4 548.3,204.8 545.6,205.3 C542.9,205.8 544.0,209.6 542.4,210.2 C540.8,210.8 538.8,210.2 535.8,208.6 C532.8,207.0 528.2,202.8 524.4,200.4 C520.6,198.0 517.1,194.6 513.0,193.9 C508.9,193.2 503.5,197.7 500.0,196.0 C496.5,194.3 495.5,187.4 491.9,183.9 C488.3,180.4 482.3,177.6 478.2,174.8 C474.1,172.0 470.5,169.7 467.1,166.9 C463.7,164.1 460.4,162.0 458.0,157.8 C455.6,153.7 452.3,144.1 453.0,142.0Z" fill="#FFDC64"/>
<path d="M458.0,145.5 C458.7,144.5 464.7,146.6 468.0,147.0 C471.3,147.4 474.8,147.7 478.0,148.0 C481.2,148.3 484.7,149.4 487.0,148.6 C489.3,147.8 490.2,144.5 492.0,143.4 C493.8,142.3 496.0,142.6 498.0,142.0 C500.0,141.4 502.8,140.8 504.0,140.0 C505.2,139.2 505.7,138.7 505.0,137.0 C504.3,135.3 501.2,134.5 500.0,130.0 C498.8,125.5 481.3,113.3 498.0,110.0 C514.7,106.7 583.0,96.7 600.0,110.0 C617.0,123.3 603.8,176.7 600.0,190.0 C596.2,203.3 582.8,189.8 577.0,189.6 C571.2,189.3 570.0,188.9 565.0,188.5 C560.0,188.1 552.9,187.5 546.8,187.3 C540.7,187.1 533.5,187.8 528.5,187.3 C523.5,186.8 520.8,185.5 517.0,184.5 C513.2,183.5 509.2,182.3 506.0,181.5 C502.8,180.7 500.3,180.6 498.0,179.5 C495.7,178.4 493.8,176.6 492.0,175.0 C490.2,173.4 489.0,171.8 487.0,170.0 C485.0,168.2 482.8,166.4 480.0,164.5 C477.2,162.6 472.7,160.4 470.0,158.5 C467.3,156.6 466.0,155.2 464.0,153.0 C462.0,150.8 457.3,146.5 458.0,145.5Z" fill="#FFF5CC"/>
<path d="M516.6,110.0 C521.4,110.0 524.8,105.5 527.0,110.0 C529.2,114.5 528.0,130.8 530.0,137.0 C532.0,143.2 536.8,143.6 539.0,147.3 C541.2,151.0 542.8,155.3 543.5,159.0 C544.2,162.7 544.2,166.4 543.0,169.5 C541.8,172.6 538.8,175.5 536.0,177.5 C533.2,179.5 529.7,180.0 526.0,181.3 C522.3,182.6 517.3,185.7 514.0,185.5 C510.7,185.3 508.7,181.9 506.0,180.0 C503.3,178.1 500.7,176.2 498.0,174.0 C495.3,171.8 492.7,169.3 490.0,167.0 C487.3,164.7 484.5,162.2 482.0,160.0 C479.5,157.8 477.3,155.6 475.0,154.0 C472.7,152.4 469.7,151.6 468.0,150.5 C466.3,149.4 464.5,148.1 465.0,147.5 C465.5,146.9 468.8,146.9 471.0,147.0 C473.2,147.1 475.3,147.7 478.0,148.0 C480.7,148.3 484.7,149.4 487.0,148.6 C489.3,147.8 490.2,144.5 492.0,143.4 C493.8,142.3 496.0,142.6 498.0,142.0 C500.0,141.4 502.8,141.0 504.0,140.0 C505.2,139.0 505.7,137.8 505.0,136.0 C504.3,134.2 501.2,133.3 500.0,129.0 C498.8,124.7 495.2,113.2 498.0,110.0 C500.8,106.8 511.8,110.0 516.6,110.0Z" fill="#96FFFF"/>
<path d="M553.0,110.0 C554.6,104.7 561.8,105.5 564.0,110.0 C566.2,114.5 563.8,130.5 566.0,137.0 C568.2,143.5 573.0,146.8 577.0,149.0 C581.0,151.2 587.8,146.2 590.0,150.0 C592.2,153.8 592.2,168.7 590.0,172.0 C587.8,175.3 580.7,172.0 577.0,170.0 C573.3,168.0 571.2,163.2 568.0,160.0 C564.8,156.8 560.2,154.0 558.0,151.0 C555.8,148.0 555.3,148.8 554.5,142.0 C553.7,135.2 551.4,115.3 553.0,110.0Z" fill="#96FFFF"/>
<path d="M498.0,110.0 C500.0,105.8 514.3,105.3 517.0,110.0 C519.7,114.7 513.0,131.8 514.0,138.0 C515.0,144.2 519.8,143.3 523.0,147.0 C526.2,150.7 531.9,156.2 533.5,160.0 C535.1,163.8 534.0,166.6 532.5,169.5 C531.0,172.4 527.2,175.4 524.5,177.5 C521.8,179.6 518.8,181.1 516.5,182.0 C514.2,182.9 513.2,183.5 511.0,183.0 C508.8,182.5 505.7,180.7 503.0,179.0 C500.3,177.3 497.8,175.3 495.0,173.0 C492.2,170.7 488.8,167.8 486.0,165.0 C483.2,162.2 480.0,158.8 478.0,156.5 C476.0,154.2 473.7,152.2 474.0,151.0 C474.3,149.8 477.8,149.4 480.0,149.0 C482.2,148.6 485.0,149.5 487.0,148.6 C489.0,147.7 490.2,144.5 492.0,143.4 C493.8,142.3 496.0,142.6 498.0,142.0 C500.0,141.4 502.8,141.2 504.0,140.0 C505.2,138.8 506.0,140.0 505.0,135.0 C504.0,130.0 496.0,114.2 498.0,110.0Z" fill="#87BEFF"/>
<path d="M564.0,110.0 C567.8,105.5 585.7,103.5 590.0,110.0 C594.3,116.5 592.2,142.5 590.0,149.0 C587.8,155.5 580.8,151.0 577.0,149.0 C573.2,147.0 569.2,143.5 567.0,137.0 C564.8,130.5 560.2,114.5 564.0,110.0Z" fill="#87BEFF"/>
<path d="M509.0,140.5 C506.5,140.5 502.5,141.4 500.0,143.0 C497.5,144.6 495.3,147.2 494.0,150.0 C492.7,152.8 492.0,156.8 492.0,160.0 C492.0,163.2 492.3,166.4 494.0,169.0 C495.7,171.6 499.2,174.1 502.0,175.5 C504.8,176.9 508.0,177.6 511.0,177.5 C514.0,177.4 518.2,176.1 520.0,175.0 C521.8,173.9 521.8,172.7 522.0,171.0 C522.2,169.3 520.6,167.2 521.0,165.0 C521.4,162.8 524.5,160.5 524.5,158.0 C524.5,155.5 522.6,152.5 521.0,150.0 C519.4,147.5 517.0,144.6 515.0,143.0 C513.0,141.4 511.5,140.5 509.0,140.5Z" fill="#4287FF"/>
<ellipse cx="504" cy="162" rx="8" ry="3.6" transform="rotate(42 504 162)" fill="#0014FF"/>
<g fill="none" stroke="#000" stroke-width="0.9" stroke-linejoin="round" stroke-linecap="round"><path d="M68.0,130.0 L70.5,129.9 L72.8,130.7 L75.2,130.7 L77.6,131.4 L80.0,131.5 L82.4,131.5 L84.7,130.4 L87.1,130.1 L89.6,131.2 L92.0,130.5 L94.7,130.6 L97.4,131.1 L100.0,132.0 L102.8,132.5 L105.3,131.3 L108.0,131.0 L110.5,131.4 L113.0,130.7 L115.5,130.8 L118.0,130.5 L121.0,129.0"/><path d="M70.3,140.0 L72.8,137.9 L75.8,136.7 L78.6,136.4 L81.3,135.6 L83.3,136.9 L85.8,137.1 L88.0,137.8 L90.1,138.7 L92.4,138.9 L90.2,142.2 L87.3,143.3 L84.6,144.9 L82.2,145.0 L80.3,143.4 L78.0,143.3 L75.3,142.1 L72.5,141.1 L70.3,140.0"/><path d="M97.9,137.8 L99.5,136.1 L101.1,134.3 L103.4,133.4 L105.7,133.7 L107.8,132.8 L110.0,132.9 L112.2,132.3 L114.3,133.3 L116.5,133.4 L118.8,133.4 L117.1,135.3 L116.6,137.8 L114.5,138.8 L112.0,139.0 L110.0,140.4 L107.8,141.1 L105.7,140.0 L103.5,139.8 L101.2,140.0 L97.9,137.8"/><path d="M121.0,133.4 L122.2,135.4 L122.7,137.7 L123.1,139.9 L123.2,142.2 L122.1,144.3 L122.6,146.7 L122.1,148.9 L122.7,151.2 L124.0,153.2 L124.6,155.5 L125.4,157.7 L127.2,159.2 L128.9,160.8 L130.3,162.7 L132.1,164.3 L134.1,165.8 L136.3,167.1 L135.7,169.4 L136.0,171.6 L135.6,173.9 L136.3,176.2 L137.3,180.2 L138.3,184.2 L138.8,187.4 L140.3,190.3 L143.2,189.5 L145.4,187.3 L147.8,188.1 L150.4,188.3 L151.4,192.3 L151.6,195.1 L150.2,197.6 L150.4,200.4 L149.9,203.0 L150.3,205.5 L151.0,208.0 L151.4,210.5 L151.3,213.1 L152.4,215.5 L151.6,218.1 L152.4,220.6 L152.5,222.9 L153.2,225.1 L153.8,227.3 L153.4,229.7 L151.3,231.0 L149.5,232.5 L148.4,234.7 L146.3,237.3 L143.3,238.8 L140.9,240.0 L141.3,242.7 L142.7,245.0 L143.9,247.3 L144.2,250.0 L143.1,252.2 L141.2,253.8 L140.2,256.1 L141.2,258.9 L143.2,261.1 L143.4,263.5 L142.0,265.6 L142.4,268.1 L141.2,270.2 L142.3,272.7 L144.2,274.8 L145.3,277.3 L146.5,280.0 L148.0,282.4 L150.3,284.3 L151.3,286.3 L151.6,288.7 L153.6,290.2 L154.3,292.4 L155.5,295.3 L155.4,298.5 L155.4,302.5"/><path d="M127.7,242.2 L132.1,240.0 L129.9,248.8 L127.7,253.2 L127.7,242.2"/><path d="M135.2,273.2 L136.6,275.8 L138.2,278.3 L139.6,280.8 L140.0,283.6 L140.2,286.4 L141.3,288.7 L142.0,291.1 L143.2,293.4 L144.7,295.5 L145.9,297.8 L146.3,300.5 L147.1,302.9 L149.2,304.4 L150.3,306.6 L151.2,309.0 L153.3,310.6 L155.0,307.0 L154.0,304.6 L152.0,303.0 L150.8,300.8 L149.9,298.5 L149.0,296.2 L148.0,294.0 L147.2,291.7 L146.1,289.4 L145.1,287.2 L144.0,285.0 L143.2,282.9 L142.6,280.7 L141.0,279.0 L140.0,277.0 L138.4,274.8 L137.0,272.5 L135.2,273.2"/><path d="M139.0,280.0 L142.0,279.0 L141.2,281.4 L141.0,284.0 L143.3,285.7 L145.0,288.0 L143.0,291.0 L144.9,292.4 L145.8,294.9 L148.0,296.0 L147.0,300.0 L149.0,301.5 L151.0,303.0"/><path d="M152.3,312.6 L148.3,318.7 L146.0,312.0 L148.0,307.0"/><path d="M154.0,310.0 L151.0,313.0 L149.0,316.0 L147.0,320.0 L149.0,317.0"/><path d="M112.0,148.0 L121.0,151.0"/><path d="M135.9,191.0 L141.3,191.2 L146.2,192.0"/><path d="M135.2,193.9 L141.3,194.9 L145.3,194.1"/><path d="M135.0,196.5 L142.5,195.6 L145.7,198.4"/><path d="M136.9,199.8 L142.0,198.9 L143.9,200.9"/><path d="M135.6,202.1 L140.7,202.3 L143.6,203.0"/><path d="M136.8,205.3 L142.3,206.0 L145.4,206.2"/><path d="M138.3,207.8 L143.7,208.6 L146.8,208.5"/><path d="M136.3,210.3 L140.5,210.3 L146.6,212.0"/><path d="M138.5,213.0 L143.4,212.5 L144.0,214.8"/><path d="M138.7,215.7 L142.0,216.3 L144.4,217.3"/><path d="M136.1,218.3 L141.9,219.2 L147.7,218.5"/><path d="M136.3,220.8 L141.0,220.2 L147.3,221.9"/><path d="M136.7,223.5 L142.3,224.1 L143.5,223.7"/><path d="M136.9,226.2 L141.1,227.2 L146.2,226.8"/><path d="M137.1,229.5 L141.6,230.1 L146.0,229.7"/><path d="M137.2,232.9 L141.4,232.7 L145.9,233.4"/><path d="M72.0,140.0 L76.0,138.0 L79.0,141.0 L83.0,138.0 L86.0,141.0 L90.0,139.0"/><path d="M74.0,142.0 L79.0,143.0 L82.0,141.0 L86.0,144.0 L89.0,142.0"/><path d="M99.0,137.0 L103.0,135.0 L106.0,138.0 L110.0,135.0 L114.0,137.0 L118.0,135.0"/><path d="M102.0,140.0 L106.0,139.0 L110.0,141.0 L114.0,139.0"/><path d="M112.0,148.0 L116.0,150.0 L119.0,149.0 L121.0,151.0"/><path d="M136.5,166.5 L172.6,129.0"/><path d="M143.1,304.0 L142.2,306.2 L142.2,308.7 L140.8,310.6 L139.8,312.8 L139.4,315.0 L140.0,317.3 L138.8,319.4 L138.7,321.6 L137.6,323.7 L137.6,326.3 L135.9,328.2 L135.2,330.5 L134.3,332.7 L132.9,334.8 L132.3,337.2 L130.7,339.2 L129.9,341.5 L128.1,340.0 L126.3,342.0 L125.8,344.8 L123.7,346.6 L123.2,349.1 L121.2,350.9 L119.7,352.9 L119.7,355.6 L118.2,357.6 L117.0,359.5 L115.5,361.2 L114.5,363.3 L113.2,365.1 L111.9,367.0 L110.4,368.7 L110.4,370.9 L109.8,373.1 L110.1,375.3 L109.7,377.5 L109.3,379.7 L108.6,381.8 L109.5,384.2 L108.4,386.3 L108.2,388.5 L108.3,390.8 L109.4,392.9 L110.0,395.1 L109.5,397.5 L110.4,399.6 L111.0,401.8 L111.3,404.0 L111.2,406.2 L111.0,408.4 L111.5,410.6 L111.9,412.9 L111.3,415.0 L111.1,417.2 L110.1,419.3 L110.4,421.6 L110.9,423.8 L110.6,426.1 L112.0,428.2 L112.1,430.4 L112.0,432.7 L112.6,434.9 L112.8,437.3 L114.2,439.3 L114.9,441.5 L117.0,442.4 L118.9,443.6 L120.3,445.4 L122.1,446.6 L124.1,447.9 L125.1,450.2 L126.7,451.9 L128.7,453.2 L130.0,455.2 L130.7,457.5 L130.7,460.0 L132.0,462.1 L132.1,464.3 L132.2,466.6 L133.1,468.7 L133.5,470.9 L134.0,473.1 L133.9,475.3 L133.3,477.5 L134.3,479.7 L134.3,481.9 L134.2,484.1 L134.6,486.3 L134.8,488.5 L135.0,490.7 L134.4,493.0 L135.3,495.2 L136.9,497.2 L138.2,499.2 L138.0,502.1 L139.2,504.3 L140.8,506.2 L140.7,508.6 L142.2,510.6 L142.1,513.0 L142.8,515.2 L144.1,517.2 L143.8,519.5 L142.3,521.5 L141.9,523.8 L138.6,523.3 L135.3,523.8 L136.7,526.2 L138.6,528.2 L140.4,530.5 L142.5,532.5 L144.1,534.9 L145.8,537.0 L147.4,539.1 L148.5,541.5 L150.2,543.4 L150.6,546.0 L152.1,547.9 L152.9,550.3 L153.0,552.6 L154.8,554.5 L154.0,557.1 L155.2,559.1 L153.8,561.2 L152.9,563.5 L152.8,566.0 L153.4,568.4 L154.0,570.8 L155.2,573.0"/><path d="M138.7,321.6 L143.1,323.8 L143.1,332.7 L151.9,334.9 L170.0,338.2 L178.8,341.5"/><path d="M148.5,481.9 L148.2,484.1 L148.9,486.4 L147.6,488.5 L148.3,490.8 L147.9,493.0 L147.4,495.2 L147.4,497.4 L147.8,499.6 L148.2,501.8 L147.6,504.1 L148.5,506.2 L149.2,508.5 L150.5,510.5 L151.5,512.7 L151.5,515.2 L152.9,517.2 L153.8,519.4 L154.3,521.8 L155.8,523.7 L156.9,525.8 L157.4,528.2 L157.8,530.4 L157.8,532.7 L159.2,534.8 L158.7,537.2 L159.6,539.3 L159.9,541.8 L160.9,543.9 L161.8,546.1 L163.9,547.8 L164.0,550.3 L164.2,552.5 L164.2,554.8 L165.8,556.8 L165.8,559.0 L166.2,561.2 L166.2,563.5 L165.6,565.9 L165.2,568.3 L164.6,570.6 L164.0,573.0"/><path d="M148.5,480.8 L150.1,482.6 L152.8,483.0 L154.6,484.5 L156.5,486.0 L158.4,487.4 L160.3,488.7 L161.8,490.7 L161.0,492.9 L161.2,495.1 L162.5,497.3 L161.8,499.6 L162.1,501.8 L162.1,504.0 L161.8,506.2 L162.8,508.3 L163.0,510.7 L163.9,512.8 L164.9,514.9 L165.9,517.0 L166.2,519.4 L167.7,521.0 L169.3,522.6 L170.1,524.7 L171.2,526.6 L172.8,528.2 L174.1,530.3 L175.6,532.4 L176.6,534.6 L177.2,537.1 L178.3,539.2 L178.8,541.6 L179.4,543.9 L180.9,545.8 L181.6,548.1 L182.0,550.5 L183.2,552.6 L184.3,554.7 L185.3,556.8 L186.0,559.1 L187.0,561.1 L187.6,563.2 L189.0,565.0 L189.5,567.2 L190.8,569.0 L192.1,570.8 L192.7,573.0"/><path d="M155.4,302.5 L157.5,303.6 L159.4,304.8 L162.0,304.9 L163.8,306.4 L165.9,307.5 L167.6,309.1 L170.0,309.6 L172.0,311.1 L174.5,311.2 L176.4,312.8 L178.7,313.5 L181.2,313.6 L183.3,314.8 L185.7,315.1 L187.5,317.0 L189.8,317.7 L192.1,318.3 L194.1,319.5 L196.4,319.9 L198.6,320.2 L200.8,320.9 L203.1,321.1 L205.5,321.0 L207.5,322.3 L209.9,321.9 L212.0,322.7 L214.1,323.8 L216.2,324.7 L218.7,324.0 L220.9,324.5 L223.1,324.9 L225.0,326.6 L227.5,325.9 L229.7,326.1 L231.7,327.9 L234.1,327.2 L236.2,328.2 L238.3,329.3 L240.5,329.6 L242.7,330.4 L244.8,331.1 L247.2,331.1 L249.3,332.0 L251.8,331.4 L253.7,333.1 L256.0,333.3 L258.2,333.8 L260.4,334.4 L262.7,333.6 L264.8,334.9 L267.0,335.4 L269.3,334.2 L271.5,334.8 L273.7,335.4 L275.8,336.1 L278.1,335.4 L280.3,336.0 L282.6,335.5 L284.8,335.7 L287.0,336.3 L289.3,336.6 L291.5,336.1 L293.8,336.1 L296.0,336.2 L298.3,336.2 L300.5,336.4 L302.8,335.9 L305.0,336.6 L307.7,336.7 L310.4,337.6 L313.1,336.8 L315.8,337.0 L317.0,334.4 L317.4,331.5 L320.0,330.5 L322.3,333.0 L322.3,335.4 L324.7,336.0 L326.5,337.8 L328.8,338.6 L330.0,339.7"/><path d="M458.7,343.2 L469.7,341.0 L478.5,338.8 L487.4,334.4"/><path d="M445.4,358.7 L447.4,357.7 L449.1,356.3 L450.8,354.8 L452.5,353.4 L454.3,352.1 L455.8,350.5 L457.5,348.9 L457.8,346.4 L459.1,344.6 L460.9,343.2 L463.3,342.2 L465.6,341.1 L467.5,339.3 L469.7,337.8 L471.9,336.6 L473.0,334.5 L472.9,332.0 L474.1,330.0 L472.9,327.8 L472.0,325.5 L471.7,323.0 L470.5,320.8 L469.5,318.6 L469.1,316.1 L467.2,318.2 L465.7,320.6"/><path d="M117.1,358.8 L143.5,370.9 L165.6,378.6 L185.4,385.2 L205.3,390.7"/><path d="M143.5,372.0 L134.7,397.4 L161.2,451.0"/><path d="M187.6,316.1 L178.8,340.0 L179.9,348.8 L172.2,357.6 L167.8,375.3 L165.6,378.6"/><path d="M192.1,317.2 L190.9,319.3 L191.5,321.7 L190.5,323.7 L190.5,326.0 L189.9,328.2 L190.3,330.6 L191.7,332.7 L193.1,334.7 L194.1,336.9 L195.3,339.0 L195.6,341.5 L196.5,343.7 L196.3,346.2 L196.3,348.6 L195.4,351.0 L196.3,353.2 L197.0,355.4 L197.0,357.8 L198.6,359.7 L198.7,362.1 L200.7,363.3 L203.1,362.9 L205.3,363.6 L207.5,363.8 L209.7,364.3 L208.8,366.4 L208.5,368.6 L208.5,370.9 L208.3,373.1 L207.5,375.2 L206.9,377.4 L207.3,379.7 L206.4,381.8 L205.7,384.0 L206.1,386.3 L206.1,388.6 L205.3,390.7"/><path d="M209.7,364.3 L230.0,367.6 L257.6,371.9"/><path d="M185.4,385.2 L170.0,439.3"/><path d="M205.3,390.7 L203.1,399.6 L230.0,405.1 L268.6,410.5"/><path d="M170.0,432.7 L172.3,432.9 L174.3,434.3 L176.5,434.8 L178.6,435.9 L180.9,436.3 L183.3,436.0 L185.6,436.5 L187.7,437.2 L190.0,437.7 L192.0,439.1 L194.1,440.0 L196.3,440.6 L198.8,440.3 L200.7,441.8 L203.2,441.6 L205.3,442.4 L207.4,443.4 L209.7,443.7 L212.1,443.3 L214.4,443.6 L216.5,445.0 L218.9,444.4 L221.2,444.8 L223.5,445.4 L225.8,445.8 L228.2,445.0 L230.4,445.8 L232.7,446.2 L235.0,446.6 L237.3,446.9 L239.6,446.8 L241.8,447.7 L243.9,448.6 L246.3,448.1 L248.5,448.7 L250.9,448.3 L253.1,448.9 L255.3,449.8 L257.6,449.9 L259.9,449.4 L262.1,450.8 L264.4,451.0 L266.8,449.9 L269.0,451.4 L271.3,450.6 L273.6,451.4 L275.9,451.6 L278.2,451.0 L280.4,451.8 L282.7,451.9 L285.0,452.3 L287.3,451.6 L289.6,452.1 L291.8,452.5 L294.0,452.8 L296.2,452.4 L298.4,452.2 L300.6,451.5 L302.8,452.1 L305.0,451.9 L307.2,452.4 L309.5,452.4 L311.7,452.2 L313.9,451.6 L316.1,452.3 L318.3,452.3 L320.5,451.6 L322.7,452.7 L324.9,452.1 L325.2,454.9 L326.0,457.6 L328.2,456.8 L330.6,457.9 L332.8,456.4 L335.1,456.5 L337.4,456.9 L339.7,456.5 L341.9,456.2 L344.2,456.2 L346.5,455.7 L348.7,455.2 L351.0,454.8 L353.2,454.4 L355.6,455.3 L357.9,455.1 L360.1,454.6 L362.4,454.3"/><path d="M218.5,406.2 L209.7,451.0 L203.7,484.1 L198.2,499.6"/><path d="M159.6,440.0 L161.8,453.2 L157.4,462.1 L152.9,473.1"/><path d="M133.1,468.7 L135.2,469.6 L137.5,469.5 L139.8,469.8 L141.9,470.5 L144.0,471.7 L146.5,470.9 L148.5,472.1 L150.8,472.2 L152.9,473.1 L154.3,474.9 L156.5,476.0 L158.2,477.5 L159.8,479.1 L161.4,480.8 L162.8,482.6 L165.0,483.6 L166.1,485.7 L168.6,486.3 L170.1,488.1 L172.0,489.4 L173.7,490.9 L175.0,492.9 L177.1,494.0 L179.3,494.6 L181.8,494.4 L184.0,495.1 L186.1,496.1 L188.1,497.3 L190.3,498.1 L192.6,498.6 L194.8,499.1 L197.1,499.6 L199.2,498.6 L201.5,498.5 L203.6,497.8 L205.9,497.8 L208.3,497.8 L210.7,497.9 L213.1,497.3 L215.4,497.4 L217.8,498.3 L220.2,497.8 L222.1,499.3 L222.4,501.9 L223.5,503.9 L224.8,505.9 L226.8,507.3 L227.9,509.3 L229.1,511.3 L230.5,513.1 L231.9,515.3 L233.0,517.7 L234.9,519.5 L237.0,521.2 L238.3,523.5 L239.5,525.5 L241.4,526.6 L242.9,528.4 L244.3,530.1 L246.1,531.4 L247.6,529.1 L250.3,528.4 L252.2,526.6 L254.0,524.8 L256.6,525.1 L259.2,525.5 L261.8,525.7 L264.4,526.1 L266.4,527.9 L267.5,530.3 L269.7,532.0 L270.7,534.5 L272.3,536.6 L273.4,538.9 L275.0,540.9 L276.1,543.2 L276.9,545.7 L278.3,547.8 L280.1,549.7 L281.9,551.6 L282.3,554.3 L283.9,556.3 L286.0,558.0 L286.9,560.4 L288.0,562.7 L290.3,563.7 L292.5,564.8 L294.2,566.7 L296.0,568.6 L298.4,569.3 L301.2,570.9 L303.7,573.0"/><path d="M230.0,498.4 L252.1,500.6 L257.6,451.0"/><path d="M263.1,334.4 L260.9,363.1 L257.6,390.7 L254.3,409.4"/><path d="M260.9,363.1 L307.2,365.3"/><path d="M257.6,390.7 L296.2,394.0 L305.0,396.2"/><path d="M305.0,336.6 L304.7,338.9 L305.3,341.1 L306.5,343.2 L305.7,345.5 L306.4,347.7 L306.2,350.0 L307.2,352.1 L307.0,354.3 L307.2,356.5 L308.0,358.7 L307.4,360.9 L307.4,363.2 L308.3,365.3 L307.5,367.4 L307.8,369.7 L307.1,371.8 L307.2,374.1 L307.5,376.3 L308.4,378.4 L308.9,380.6 L309.1,382.9 L309.2,385.1 L309.6,387.3 L309.4,389.6 L307.9,391.8 L306.2,393.8 L305.0,396.2 L306.3,398.0 L307.7,399.6 L308.8,401.6 L310.5,403.1 L311.6,405.0 L312.2,407.2 L312.3,409.5 L313.4,411.6 L313.8,413.8 L315.4,415.8 L315.4,418.5 L316.8,420.6 L318.2,422.7 L319.5,424.8 L320.6,427.0 L321.5,429.3 L322.7,431.5 L323.1,433.9 L324.2,436.2 L325.1,438.4 L324.9,441.0 L325.4,443.2 L324.4,445.4 L325.5,447.7 L325.0,449.9 L324.9,452.1"/><path d="M267.5,420.4 L318.2,422.7"/><path d="M266.4,410.5 L265.3,449.9"/><path d="M309.4,389.6 L330.0,387.1"/><path d="M316.0,417.1 L346.9,414.9"/><path d="M344.7,387.1 L346.2,389.2 L347.3,391.4 L348.5,393.7 L349.1,396.2 L350.3,398.3 L351.8,400.4 L353.1,402.5 L353.5,405.0 L353.0,407.5 L351.8,409.6 L350.2,411.6 L349.1,413.8 L350.2,415.9 L350.7,418.1 L350.5,420.4 L351.0,422.7 L351.3,424.9 L352.3,427.3 L354.6,428.9 L355.4,431.4 L356.7,433.6 L357.9,435.9 L359.9,437.3 L360.2,440.0 L362.5,441.1 L364.1,442.8 L365.0,445.0 L365.4,447.7 L366.2,450.3 L366.0,453.1 L365.5,455.3 L365.6,457.5 L365.7,459.8 L365.5,462.0 L364.1,464.0 L364.5,466.4 L363.8,468.5 L362.7,470.6 L362.6,472.9 L361.2,475.0 L361.6,477.4 L361.0,479.7 L360.4,481.9 L359.4,484.0 L358.5,486.1 L358.5,488.4 L358.5,490.6 L358.6,492.9 L357.3,495.0 L357.2,497.2 L356.0,499.3 L356.2,501.6 L356.7,504.0 L356.2,506.1 L355.0,508.2"/><path d="M257.6,451.0 L260.0,451.0 L262.1,451.7 L264.4,452.1 L266.6,452.7 L268.5,454.2 L270.6,455.2 L273.1,454.7 L275.0,456.5 L277.4,456.4 L279.5,457.5 L281.8,457.6 L281.0,459.9 L280.8,462.2 L282.1,464.7 L281.6,467.0 L280.9,469.3 L280.3,471.6 L281.5,474.0 L280.7,476.3 L283.0,476.9 L284.9,478.6 L287.6,478.4 L289.6,479.7 L291.8,480.7 L294.1,480.9 L296.1,481.9 L298.3,482.8 L300.7,482.1 L302.7,483.4 L304.9,483.9 L307.2,484.0 L309.3,484.8 L311.6,484.6 L313.7,485.4 L316.0,484.7 L318.2,485.2 L320.4,485.4 L322.7,485.5 L324.8,486.7 L327.1,486.6 L329.3,486.7 L331.5,487.4 L332.0,489.6 L331.1,491.8 L331.5,494.0 L332.1,496.3 L332.6,498.5 L333.9,500.5 L334.5,502.8 L335.7,504.8 L335.6,507.3 L337.4,509.2 L337.4,511.6 L338.1,513.8 L337.3,515.9 L336.9,518.2 L337.4,520.6 L336.8,522.8 L335.9,524.9"/><path d="M326.0,457.6 L328.2,486.3"/><path d="M331.5,492.9 L357.9,491.8"/><path d="M309.4,541.0 L307.5,542.9 L306.4,545.2 L304.6,547.2 L303.7,549.7 L305.7,548.5 L306.8,546.5 L308.8,545.4 L310.2,543.6 L311.5,541.8 L313.2,539.9 L315.1,538.3 L316.7,536.3 L318.9,535.0 L321.3,534.0 L322.3,531.3 L324.6,530.1 L326.7,529.4 L328.5,527.9 L330.6,527.1 L333.0,527.1 L335.0,526.1 L337.6,525.4 L340.2,524.7 L342.8,524.6 L345.5,524.8 L347.6,525.5 L349.8,525.8 L352.2,525.4 L354.3,526.2 L356.3,527.8 L358.6,527.5 L361.3,527.4 L363.8,528.2 L366.4,528.3 L369.0,528.8 L371.2,527.8 L373.0,526.3 L375.2,525.2 L376.9,523.5 L379.3,523.7 L380.5,521.5 L381.1,519.1 L382.1,516.9 L383.7,514.9 L385.1,513.0 L387.5,512.6 L388.6,510.4 L390.3,508.9 L392.5,508.2 L394.6,509.4 L397.0,508.6 L399.0,510.1 L401.4,509.3 L403.5,510.4 L405.7,510.8 L408.0,510.9 L410.1,512.3 L412.3,512.4 L414.6,512.7 L416.7,514.4 L418.8,516.0 L421.2,517.1 L423.7,516.5 L425.5,514.7 L427.9,513.9 L430.0,512.7 L432.7,514.1 L435.4,515.7"/><path d="M303.7,573.0 L301.0,560.1 L303.7,549.7"/><path d="M330.0,339.7 L332.4,340.2 L334.1,342.4 L336.5,343.0 L338.9,343.2 L341.4,343.5 L343.9,342.5 L346.3,343.0 L348.8,342.2 L351.2,341.3 L352.8,339.7 L354.5,338.1 L356.4,336.7 L357.3,334.4 L359.4,333.2 L361.9,333.2 L364.3,333.6 L366.8,333.1 L369.2,334.0 L371.6,336.1 L374.1,338.1 L375.5,340.0 L377.4,341.3 L379.1,342.9 L380.7,344.6 L382.1,347.2 L383.9,349.5 L381.4,350.1 L379.0,351.1 L375.8,351.6 L372.5,351.1 L370.1,352.2 L367.6,352.8 L366.5,350.6 L364.1,349.7 L362.7,347.9 L359.4,349.5 L357.0,351.2 L354.5,352.8 L353.3,354.9 L351.6,356.4 L349.6,357.7 L347.3,357.7 L345.4,355.9 L343.1,356.0 L340.5,356.5 L338.2,357.7 L336.5,356.0"/><path d="M336.5,356.0 L349.6,357.7 L362.7,361.0 L369.2,365.8 L370.9,370.8 L367.6,374.0"/><path d="M370.9,362.6 L369.5,364.9 L368.5,367.3 L368.3,369.9 L367.6,372.4 L367.5,375.3 L368.6,377.9 L369.2,380.6 L369.8,383.0 L369.3,385.6 L369.8,388.1 L370.9,390.4 L370.7,392.7 L372.0,394.7 L372.5,396.9 L374.7,398.9 L377.4,400.2 L378.9,398.4 L380.7,396.9 L381.5,394.4 L381.4,392.0 L380.4,389.6 L380.7,387.1 L381.1,384.8 L379.6,382.8 L379.2,380.6 L379.9,378.3 L379.0,376.2 L379.0,374.0 L379.9,371.6 L380.9,369.2 L380.8,366.4 L382.3,364.2 L383.7,362.2 L384.2,359.7 L385.6,357.7 L387.8,358.1 L390.0,358.5 L392.1,359.3 L393.4,361.7 L395.1,363.9 L397.0,365.8 L396.8,368.6 L396.6,371.4 L395.4,374.0 L397.2,375.4 L398.6,377.3 L400.1,375.5 L401.9,374.0 L405.2,372.4 L406.4,374.4 L406.8,376.6 L406.8,378.9 L405.9,381.6 L405.4,384.3 L405.2,387.1 L403.4,388.9 L402.3,391.1 L401.9,393.6 L404.2,395.0 L406.8,395.3"/><path d="M385.6,352.8 L388.1,353.0 L390.6,353.1 L393.0,353.7 L395.4,354.4 L397.8,353.5 L400.3,352.8 L402.8,352.0 L405.2,351.1 L407.4,351.4 L409.4,352.8 L411.7,352.8 L413.6,354.2 L415.0,356.0 L416.1,358.1 L418.2,359.3 L415.9,359.4 L413.9,360.7 L411.7,361.0 L408.4,359.3 L409.4,361.4 L409.1,363.8 L410.1,365.8 L410.9,368.5 L410.7,371.3 L410.1,374.0 L409.5,376.2 L408.9,378.4 L408.4,380.6 L407.8,383.0 L406.9,385.3 L405.2,387.1"/><path d="M406.8,393.6 L408.4,391.9 L410.9,391.3 L412.5,389.5 L414.8,388.8 L416.6,387.2 L418.2,385.5 L420.6,384.8 L421.7,382.2 L423.8,381.1 L425.6,379.6 L428.0,378.9 L429.1,380.9 L430.0,382.9 L427.9,384.5 L426.0,386.2 L423.4,386.9 L421.5,388.8 L419.0,389.6 L416.9,391.0 L414.7,392.2 L412.1,392.5 L410.2,394.1 L407.9,395.1 L405.7,391.8"/><path d="M425.6,369.7 L427.0,367.8 L428.4,365.9 L430.5,364.7 L432.2,363.1 L434.4,362.7 L436.7,362.3 L439.0,362.1 L441.0,360.9 L443.4,360.2 L445.4,358.7 L445.1,361.0 L444.5,363.3 L443.2,365.3 L440.8,366.4 L438.5,367.8 L436.6,369.7 L434.4,370.2 L432.1,370.3 L430.0,371.3 L427.8,371.9 L425.6,369.7"/><path d="M336.5,356.0 L334.9,365.8 L333.3,370.8 L338.2,378.9 L344.7,387.1"/><path d="M330.0,387.1 L344.7,387.1"/><path d="M352.9,395.3 L369.2,393.6"/><path d="M379.0,400.2 L403.5,395.3"/><path d="M427.8,384.0 L440.0,380.5 L457.0,374.6 L463.5,379.2"/><path d="M460.9,342.6 L468.8,360.9 L470.1,370.1 L472.7,377.9"/><path d="M468.8,360.9 L483.1,357.0"/><path d="M470.1,368.8 L483.1,363.5"/><path d="M471.4,340.0 L471.4,358.3"/><path d="M476.6,340.0 L483.1,350.5"/><path d="M377.1,400.6 L379.3,438.1"/><path d="M423.4,385.2 L425.9,395.9 L428.8,406.2 L464.1,395.9"/><path d="M428.8,406.2 L431.3,405.8 L433.7,405.7 L436.2,406.2 L437.6,404.7 L440.6,406.2 L443.5,403.2 L446.5,404.7 L446.5,407.1 L445.0,409.1 L442.9,410.9 L440.6,412.6 L439.1,415.0 L438.2,417.3 L438.6,419.7 L437.9,422.0 L437.2,424.4 L437.6,426.8 L435.5,427.9 L433.8,429.6 L432.2,431.3 L430.3,432.6 L427.4,432.6 L424.4,432.6 L422.5,431.2 L421.1,429.4 L420.2,427.1 L419.1,425.1 L417.0,423.8"/><path d="M357.9,435.9 L360.6,436.7 L363.3,437.2 L366.0,438.0 L368.3,438.3 L370.4,439.1 L372.5,440.2 L374.8,440.3 L377.0,439.5 L379.5,439.5 L381.3,437.6 L383.6,437.1 L385.9,436.7 L388.1,435.9 L389.0,433.7 L390.6,431.8 L391.5,429.7 L392.7,427.6 L393.2,425.3 L393.3,422.7 L395.0,420.9 L397.9,421.8 L400.9,422.4 L403.3,422.9 L405.8,423.3 L408.2,423.8 L410.4,423.4 L412.6,424.1 L414.8,424.5 L417.0,423.8 L418.2,421.5 L420.5,420.1 L422.0,418.0 L423.0,415.9 L424.3,414.1 L425.9,412.4 L427.2,410.5 L427.9,408.3 L428.8,406.2"/><path d="M424.4,432.6 L421.5,435.6 L414.1,442.9 L411.0,447.0"/><path d="M366.0,453.1 L395.0,445.9 L424.4,438.5 L456.8,429.7 L471.5,426.8"/><path d="M394.7,396.2 L396.5,404.7 L398.0,421.0"/><path d="M445.0,404.7 L447.8,405.1 L450.3,406.5 L452.7,408.0 L455.6,408.3 L457.0,410.8 L457.4,413.6 L459.7,415.2 L461.8,417.1 L464.4,420.6 L465.8,422.8 L468.0,424.2"/><path d="M460.0,401.2 L462.7,406.5 L466.2,411.8 L468.0,417.1 L470.6,420.6"/><path d="M463.6,380.0 L464.4,387.1 L468.9,389.7 L464.4,395.0 L471.5,400.3"/><path d="M473.0,428.0 L475.0,434.0 L474.0,440.0 L471.0,446.0"/><path d="M487.4,334.4 L486.2,336.4 L484.8,338.4 L483.1,340.0 L482.8,342.3 L483.3,344.5 L484.4,346.5 L484.0,349.2 L483.1,351.8 L485.2,354.3 L487.1,357.0 L489.9,358.0 L492.3,359.6 L493.6,363.5 L491.0,364.8 L488.5,366.0 L485.8,366.1 L484.1,368.4 L481.8,370.1 L478.7,371.4 L476.6,374.0 L475.1,376.4 L472.7,377.9 L470.6,380.0 L471.5,382.1 L471.5,384.4 L473.3,386.3 L474.2,388.8 L474.4,392.0 L473.3,395.0 L472.4,397.6 L471.5,400.3 L472.0,403.1 L473.3,405.6 L472.3,408.2 L472.4,410.9 L471.7,414.0 L471.5,417.1 L470.6,420.6 L471.5,424.2 L473.3,426.8 L475.9,428.6 L478.0,429.9 L479.1,431.9 L480.3,433.9 L481.2,437.4 L478.5,439.1 L476.8,441.8 L475.5,444.1 L473.3,445.4 L471.8,447.9 L469.7,450.0 L467.5,450.9 L466.4,452.8 L465.6,454.9 L464.1,456.6 L463.1,458.6 L462.6,460.9 L461.3,462.7 L459.2,464.0 L458.7,466.3 L457.8,468.4 L455.5,469.5 L455.2,471.9 L452.8,473.0 L452.1,475.2 L450.8,477.3 L449.7,479.5 L449.3,482.1 L447.7,484.0 L448.0,486.3 L446.5,488.3 L447.1,490.7 L446.7,492.9 L445.3,494.9 L445.4,497.2 L445.7,499.6 L447.9,501.3 L447.4,504.1 L448.9,506.0 L449.9,508.2 L451.4,510.3 L453.1,512.3 L454.0,514.8 L454.5,517.5 L456.5,519.3 L458.7,518.4 L461.0,518.2 L462.8,520.0 L464.1,522.2 L465.4,524.3 L466.3,526.6 L466.8,529.2 L468.7,531.0 L470.2,532.9 L470.9,535.1 L470.6,537.7 L471.4,539.9 L472.3,542.0 L473.9,543.9 L474.3,546.5 L474.1,549.0 L473.2,551.5 L473.9,554.1 L471.3,555.4 L468.7,556.7 L466.2,555.5 L463.5,555.2 L461.0,554.1 L458.8,552.9 L457.4,550.9 L455.9,549.0 L455.0,546.9 L453.7,544.9 L452.2,543.2 L450.8,541.3 L448.8,539.4 L447.0,537.4 L445.0,535.6 L443.1,533.6 L442.3,531.0 L441.9,528.3 L440.5,525.9 L439.1,524.1 L438.6,521.8 L438.1,519.5 L436.9,517.5 L435.4,515.7 L432.6,514.9 L430.6,512.4 L427.7,511.8 L425.0,512.2 L422.7,514.0 L420.0,514.4"/><path d="M472.7,380.5 L483.1,372.7"/><path d="M363.8,468.5 L401.3,463.0 L421.2,458.6"/><path d="M380.4,467.4 L383.7,512.7"/><path d="M401.3,463.0 L410.2,488.4 L414.6,504.9 L445.4,501.6"/><path d="M421.2,458.6 L430.0,470.7 L443.2,479.6 L447.7,484.0"/><path d="M412.4,460.8 L421.2,455.3 L438.8,453.1 L452.1,455.3 L463.1,458.6"/><path d="M420.0,505.4 L440.5,501.5 L445.7,500.3"/><path d="M355.0,512.7 L363.8,517.1 L372.6,519.3 L379.3,523.7"/><path d="M473.9,556.7 L468.7,561.8 L461.0,565.7"/><path d="M461.5,535.0 L463.5,533.5 L466.0,535.0 L465.5,538.5 L462.5,538.5 L461.5,535.0"/><path d="M481.6,534.9 L489.3,531.0 L494.4,527.2 L499.5,528.5 L502.1,536.2"/><path d="M507.2,538.7 L514.9,541.3 L517.5,545.2"/><path d="M520.0,543.9 L527.7,547.7 L535.4,545.2"/><path d="M494.4,547.7 L497.0,554.1 L502.1,559.3 L505.0,562.0 L500.0,556.0 L495.0,551.0"/><path d="M527.7,554.1 L535.4,559.3 L543.1,558.0 L548.3,561.8"/><path d="M556.0,558.0 L560.0,558.5"/><path d="M566.2,559.3 L573.9,558.0"/><path d="M511.6,240.0 L510.8,242.4 L509.8,244.7 L508.9,247.1 L507.2,249.0 L506.2,251.9 L506.8,255.0 L505.5,258.9 L503.0,261.0 L500.3,262.8 L497.7,263.6 L496.0,266.0 L493.8,267.4 L491.1,268.1 L488.5,268.9 L486.3,270.3 L483.9,271.3 L482.0,273.3 L480.2,274.7 L478.7,276.5 L476.8,277.9 L475.5,279.8 L475.7,282.1 L474.6,284.2 L474.2,286.4 L472.9,288.6 L472.0,291.0 L470.2,292.9 L469.5,295.2 L469.4,297.7 L468.6,300.0 L468.3,302.4 L467.6,304.7 L467.4,307.1 L466.8,309.4 L465.9,311.7 L464.8,313.9 L465.0,316.4"/><path d="M518.4,240.0 L518.3,242.4 L518.9,244.6 L519.5,246.9 L520.6,249.0 L520.6,252.0 L519.9,255.0 L520.1,257.4 L522.0,259.2 L522.5,261.5 L522.4,264.3 L521.2,266.8 L522.5,269.4 L523.5,272.2 L525.1,274.6 L526.9,272.8 L529.2,271.5 L530.8,269.5 L533.0,268.1 L535.4,267.0 L536.9,264.7 L538.8,263.1 L540.8,261.5 L543.0,260.1 L545.2,261.3 L547.5,262.4 L545.8,264.4 L545.2,266.9 L546.5,264.8 L546.4,262.4 L546.8,260.1 L547.5,257.9 L549.8,257.0 L551.9,255.7 L554.1,255.0 L556.4,255.6 L558.6,255.7 L558.4,253.3 L557.6,251.1 L556.4,249.0 L553.8,248.5 L551.9,246.7 L550.0,244.7 L547.3,243.9 L545.2,242.2 L542.7,242.2 L540.8,243.9 L538.5,244.5 L536.4,245.5 L534.0,245.5 L531.6,245.6 L529.5,246.7 L527.2,245.3 L525.4,243.2 L522.8,242.2"/><path d="M487.2,275.9 L495.1,272.0 L504.2,272.6 L501.6,274.6 L491.1,276.6 L487.2,275.9"/><path d="M468.9,306.0 L470.5,304.2 L471.3,301.9 L472.6,299.9 L474.2,298.1 L475.3,296.1 L476.8,294.2 L478.5,292.2 L480.6,290.7 L482.7,289.2 L484.2,287.0 L485.9,285.1 L488.2,283.3 L491.1,282.5 L493.3,283.4 L495.1,285.1 L495.3,288.4 L495.1,291.6 L493.0,292.7 L491.5,294.7 L489.5,296.1 L487.2,296.8 L489.3,295.7 L491.5,294.7 L493.8,294.2 L496.9,295.5 L499.0,298.1 L501.6,300.1 L504.2,302.1 L506.5,302.3 L508.6,301.3 L510.8,300.8 L513.2,299.8 L515.4,298.6 L517.3,296.8 L519.9,297.3 L522.5,296.8 L524.7,297.5 L526.9,296.7 L529.1,296.8 L530.0,294.3 L530.4,291.6 L528.6,290.0 L527.7,287.7 L525.4,285.9 L522.5,285.1 L523.3,287.7 L523.8,290.3"/><path d="M504.2,298.1 L509.4,296.8 L516.0,295.5 L512.1,299.4 L506.8,300.8 L504.2,298.1"/><path d="M506.8,307.3 L510.1,307.3 L513.4,307.3 L511.6,308.9 L510.8,311.2 L508.1,310.9 L505.5,309.9 L506.8,312.3 L506.7,315.3 L508.1,317.7 L507.1,320.3 L507.0,323.2 L505.5,325.6 L507.8,326.8 L509.2,328.9 L510.8,330.8 L512.5,328.5 L515.5,327.7 L517.3,325.6 L517.5,323.2 L518.3,320.9 L519.1,318.7 L519.9,316.4 L521.2,314.2 L522.4,312.0 L523.8,309.9 L525.0,307.7 L526.0,305.5 L526.6,303.0 L527.7,300.8 L529.1,298.1"/><path d="M474.2,311.2 L476.1,309.7 L478.8,310.2 L480.7,308.6 L483.1,310.8 L485.9,312.5 L487.8,314.1 L488.6,316.4 L489.5,318.6 L491.1,320.4 L493.4,322.4 L496.4,323.0 L497.4,320.6 L498.8,318.6 L500.9,317.1 L502.4,315.1 L504.5,313.6 L505.5,311.2 L506.8,307.3 L506.0,304.5 L504.2,302.1"/><path d="M496.4,323.0 L491.1,329.5 L487.2,335.0 L487.4,334.4"/><path d="M440.0,200.6 L442.4,201.9 L444.5,203.5 L446.7,205.1 L448.9,206.4 L450.9,207.9 L453.4,208.5 L455.8,209.2 L457.9,210.5 L460.1,211.8 L462.8,213.6 L464.6,216.3 L466.8,217.6 L469.1,218.5 L471.5,218.2 L473.4,220.0 L475.8,219.7 L478.0,220.3 L480.3,220.9 L482.7,220.7 L484.8,221.9 L486.9,220.8 L489.3,220.4 L491.5,219.7 L493.6,220.8 L496.0,220.8 L495.2,223.0 L494.8,225.4 L493.7,227.5 L491.6,229.3 L490.6,231.8 L489.3,234.2 L491.5,233.1 L493.7,232.0 L494.4,229.5 L495.7,227.4 L497.6,225.5 L498.2,223.0 L500.4,222.4 L502.7,223.1 L504.9,223.2 L507.2,223.0 L509.6,224.3 L511.4,226.4 L513.9,227.5 L514.9,230.1 L516.4,232.3 L518.4,234.2 L516.9,237.0 L516.1,240.0 L518.4,240.0"/><path d="M440.0,132.4 L442.4,132.7 L444.7,133.2 L446.7,134.6 L449.0,135.6 L451.3,136.6 L453.4,138.0 L454.1,135.5 L455.7,133.5 L455.9,136.3 L457.6,138.6 L457.9,141.3 L460.0,142.6 L462.2,143.7 L464.9,143.3 L466.9,144.7 L469.0,145.9 L471.4,145.6 L473.7,145.9 L475.8,146.9 L478.1,146.7 L480.4,146.7 L482.6,147.7 L484.8,148.0 L487.0,147.1 L489.4,147.1 L491.5,145.8 L494.0,145.1 L495.6,142.9 L498.2,142.4 L500.3,140.8 L502.6,139.3 L504.9,138.0 L503.3,136.0 L502.7,133.5 L500.7,131.5 L499.3,129.0"/><path d="M319.5,206.2 L322.0,206.4 L324.3,207.7 L326.9,207.8 L329.3,208.6 L328.7,211.3 L326.9,213.5 L326.0,215.6 L324.5,217.3 L323.1,219.0 L322.0,220.9 L321.8,223.5 L320.4,225.7 L320.6,228.4 L319.5,230.7 L318.3,233.1 L317.5,235.5 L317.2,238.2 L315.8,240.5 L315.7,243.0 L316.6,245.4 L316.7,247.9 L317.1,250.3 L319.4,252.1 L321.9,253.7 L324.4,255.2 L325.1,257.6 L326.3,259.9 L325.8,262.7 L326.9,265.0 L329.5,264.7 L331.8,263.3 L334.2,262.5 L336.3,263.3 L338.5,263.5 L340.3,265.2 L342.5,265.6 L344.8,265.6 L346.6,267.2 L348.9,267.4 L350.7,268.9 L353.1,268.8 L354.8,270.6 L357.1,270.6 L359.3,271.0 L361.2,272.3 L363.5,273.5 L366.2,273.7 L368.5,274.8 L371.0,274.9 L373.4,274.3 L375.8,273.3 L378.3,273.6 L379.5,275.7 L380.3,278.1 L382.0,280.0 L383.2,282.1 L384.0,284.6 L384.3,287.2 L385.7,289.5 L387.4,291.9 L389.0,294.4 L390.6,296.8 L393.0,298.5 L395.2,300.5 L397.9,301.7 L399.5,300.1 L401.2,298.7 L403.7,298.4 L405.3,296.8 L406.6,294.4 L407.7,291.9 L406.0,290.4 L405.3,288.1 L403.9,286.3 L402.0,285.0 L400.5,283.3 L399.6,281.1 L397.9,279.5 L396.3,277.9 L394.2,276.7 L393.0,274.8 L394.1,272.6 L396.5,271.7 L397.9,269.9 L399.4,268.3 L400.2,266.1 L401.5,264.3 L402.8,262.5 L402.9,260.1 L402.4,257.6 L403.1,255.1 L402.8,252.7 L401.7,250.2 L400.2,247.9 L398.6,245.6 L397.9,242.9 L395.5,241.2 L392.9,239.9 L390.6,238.0 L390.1,235.5 L388.4,233.3 L388.1,230.7 L387.9,228.2 L387.6,225.8 L388.0,223.3 L388.2,220.9 L388.1,218.4 L386.1,216.8 L384.6,214.9 L383.7,212.5 L381.9,210.8 L380.8,208.6 L380.8,206.1 L380.8,203.7 L383.0,202.2 L385.4,201.1 L388.1,200.8 L390.8,200.4 L393.0,198.8 L395.4,199.8 L397.9,199.7 L400.4,199.9 L402.9,199.8 L405.3,200.5 L407.7,201.3 L409.5,202.7 L410.5,204.9 L412.6,206.0 L415.2,206.1 L417.4,208.0 L420.0,207.9 L422.5,208.6 L424.2,210.2 L426.0,211.6 L427.4,213.5 L428.5,215.7 L431.0,216.4 L432.3,218.4 L433.6,216.0 L434.8,213.5 L435.5,210.8 L437.2,208.6 L437.4,206.0 L439.2,203.9 L439.5,201.4 L439.6,198.8 L442.1,200.4 L445.0,201.3"/><path d="M388.0,257.0 L391.0,255.0 L393.0,259.0 L390.0,262.5 L388.0,257.0"/><path d="M358.7,208.0 L361.0,206.0 L363.6,212.0 L361.0,216.0 L358.7,208.0"/><path d="M371.0,210.0 L374.0,208.6 L376.0,213.0 L373.0,216.0 L371.0,210.0"/><path d="M344.0,192.0 L350.0,197.0 L358.0,196.0 L365.0,192.0 L368.0,189.0"/><path d="M360.9,129.0 L362.9,130.2 L365.5,129.5 L367.4,131.0 L369.7,131.2 L371.8,132.1 L374.2,131.9 L376.3,132.8 L378.5,133.4 L380.7,135.1 L383.5,135.1 L385.9,136.4 L387.0,138.8 L388.8,140.8 L391.3,141.8 L393.2,143.7 L395.6,144.5 L398.2,144.3 L400.6,145.2 L403.5,145.9 L406.5,146.6 L409.4,146.4 L412.4,146.6 L414.4,147.9 L416.8,148.1 L417.1,150.4 L418.2,152.5 L417.5,155.4 L416.8,158.4 L417.2,160.7 L418.2,162.8 L413.8,162.8 L411.3,161.9 L409.1,160.4 L406.5,159.9 L403.5,159.5 L400.6,158.4 L401.3,160.6 L402.1,162.8 L404.0,164.4 L406.1,165.6 L407.9,167.2 L411.0,167.2 L413.8,168.7 L416.3,169.7 L418.2,171.6 L420.2,174.0 L422.6,176.1 L424.5,178.0 L425.6,180.5 L422.6,180.8 L419.7,181.9 L416.8,181.9 L413.8,181.9 L410.9,181.2 L407.9,181.9 L410.9,184.9 L413.2,185.9 L415.7,186.3 L418.2,186.4 L421.2,186.9 L424.1,187.8 L427.1,190.8"/><path d="M318.0,201.0 L320.8,199.3 L324.0,199.0 L326.7,199.4 L329.3,200.1 L332.0,200.0 L334.2,201.0 L336.7,200.2 L339.0,201.0 L341.8,202.0 L344.0,204.0 L343.3,201.6 L341.6,199.8 L339.9,198.0 L338.8,195.8 L336.7,194.3 L335.8,192.0 L334.6,189.8 L333.0,188.0 L335.3,186.7 L337.1,184.7 L339.3,183.3 L341.9,182.6 L344.0,181.0 L347.0,178.0 L349.0,180.2 L352.0,180.9 L354.0,183.0 L354.1,185.9 L353.3,188.5 L352.0,191.0 L354.3,192.9 L357.0,194.0 L355.0,190.8 L358.0,192.1 L360.9,193.7 L363.2,195.8 L365.3,198.1"/><path d="M380.0,205.5 L391.8,199.6 L403.5,201.0 L413.8,204.0"/><path d="M315.2,129.0 L313.8,131.4 L313.9,134.2 L314.6,136.5 L316.0,138.5 L316.5,140.8 L316.6,143.0 L318.1,145.0 L317.8,147.3 L318.8,149.8 L319.2,152.5 L319.5,154.8 L320.5,157.0 L323.0,160.0 L325.3,160.8 L327.0,162.5 L327.1,165.4 L325.7,168.0 L329.0,167.0 L331.2,169.0 L333.5,171.0 L335.0,172.7 L336.1,174.8"/><path d="M324.4,129.0 L323.2,131.5 L324.2,134.3 L323.1,136.8 L323.3,139.6 L324.4,142.1 L326.5,143.9 L328.3,146.0 L330.7,147.7 L333.5,148.6 L337.5,149.9 L338.2,152.5 L338.8,155.1 L339.9,157.9 L341.4,160.4 L341.0,163.1 L340.1,165.6 L337.5,168.2 L338.6,170.7 L338.8,173.4 L336.1,174.8"/><path d="M345.3,152.5 L347.3,153.7 L349.2,155.1 L350.1,158.0 L351.8,160.4 L351.8,163.0 L353.3,165.5 L354.4,168.2 L356.1,170.6 L357.1,173.4 L355.2,175.5 L353.1,177.4 L350.7,178.7 L347.9,178.7 L345.4,180.3 L342.7,181.3 L341.4,183.9 L344.0,184.4 L346.6,184.8 L349.2,185.2"/><path d="M354.4,143.4 L357.0,144.8 L359.7,146.0 L362.5,147.0 L364.9,148.6 L367.8,149.2 L370.1,151.2 L373.1,151.8 L375.4,153.8 L377.5,154.9 L379.3,156.5 L380.2,158.6 L380.1,160.9 L380.6,163.0 L381.6,165.5 L381.9,168.2 L382.4,170.6 L383.5,172.7 L384.5,174.8 L383.0,176.6 L381.9,178.7 L379.6,179.2 L377.6,180.4 L375.4,181.3 L374.1,183.3 L372.7,185.2 L375.5,186.2 L378.0,187.8 L379.7,185.8 L382.5,185.3 L384.4,183.4 L387.3,184.2 L390.3,184.9 L393.5,185.8 L396.2,187.8 L397.9,189.4 L400.1,189.9 L402.1,190.8 L404.2,191.7 L406.5,192.2 L408.9,192.1 L411.4,191.6 L413.8,192.2 L416.9,192.3 L419.7,190.8"/><path d="M366.2,161.7 L366.6,159.4 L368.0,157.5 L372.0,156.5 L373.9,158.1 L375.4,160.0 L374.2,162.6 L374.5,165.5 L372.4,166.8 L370.0,166.9 L367.0,165.0 L366.2,161.7"/><path d="M357.5,151.0 L359.0,150.0 L360.0,155.0 L358.0,156.0 L357.5,151.0"/><path d="M223.5,129.0 L224.2,131.6 L224.9,134.2 L225.5,136.8 L229.4,138.8 L229.4,134.9 L231.1,137.3 L232.0,140.0 L234.0,142.1 L236.9,143.0 L239.2,144.7 L241.7,146.1 L243.2,148.6 L245.1,150.6 L247.6,152.0 L248.8,154.8 L251.0,156.5 L252.9,160.4 L251.0,164.3 L253.5,165.5 L256.0,166.3 L258.8,166.3 L261.3,164.9 L264.1,165.2 L266.7,164.3 L268.9,166.0 L270.6,168.2 L269.6,171.2 L268.6,174.1 L270.6,178.0 L271.2,175.0 L272.5,172.1 L273.2,169.1 L274.5,166.3 L278.4,164.3 L280.8,165.8 L282.4,168.2 L286.3,170.2 L288.9,170.4 L291.5,169.5 L294.1,170.2 L296.9,170.3 L299.2,168.2 L302.0,168.2 L303.4,170.7 L305.9,172.1 L308.2,173.8 L309.8,176.1 L311.3,173.6 L313.7,172.1 L315.9,170.4 L317.6,168.2"/><path d="M251.0,129.0 L250.3,131.6 L249.2,134.1 L249.0,136.8 L251.0,138.1 L252.8,139.6 L254.9,140.8 L257.7,140.8 L260.0,142.3 L262.7,142.7 L264.7,144.7 L262.2,144.7 L259.8,144.0 L257.4,145.5 L254.9,144.7 L253.3,146.6 L250.8,147.1 L249.0,148.6 L249.0,151.4 L250.5,153.8 L251.0,156.5 L252.7,158.7 L254.9,160.4 L257.5,160.5 L260.1,160.2 L262.7,160.4 L265.3,159.7 L268.0,159.2 L270.6,158.4 L273.2,157.6 L275.8,158.1 L278.4,158.4 L281.1,158.1 L283.6,156.8 L286.3,156.5 L288.9,155.1 L291.3,153.5 L294.1,152.5 L293.2,150.0 L293.1,147.2 L292.2,144.7 L291.0,142.5 L289.8,140.3 L287.7,138.8 L286.3,136.8 L285.2,134.3 L284.7,131.7 L284.3,129.0"/><path d="M298.0,129.0 L302.0,136.8 L305.9,144.7 L302.0,152.5"/><path d="M302.0,160.4 L303.5,158.5 L305.6,157.5 L307.8,156.5 L309.7,158.1 L311.6,159.5 L314.0,160.5 L315.7,162.3 L315.2,165.4 L313.7,168.2 L311.3,169.5 L308.6,170.0 L305.9,170.2 L303.9,168.2 L301.7,166.5 L300.0,164.3 L302.0,160.4"/><path d="M276.5,129.0 L280.4,133.0 L278.0,138.8 L276.5,133.0"/><path d="M190.0,130.0 L200.0,131.0 L215.0,130.0"/><path d="M213.7,164.3 L218.0,163.5 L220.6,165.0 L223.5,165.3 L225.9,165.7 L228.4,165.5 L230.9,165.9 L233.3,166.3 L235.8,167.7 L237.3,170.2 L235.0,171.9 L233.3,174.1 L230.6,174.4 L228.2,175.6 L225.5,176.1 L222.4,176.7 L219.6,178.0 L217.4,176.3 L215.7,174.1 L217.3,171.8 L219.6,170.2 L217.3,168.5 L215.3,166.6 L213.7,164.3"/><path d="M219.6,210.6 L222.1,211.9 L224.7,213.0 L227.4,213.9 L229.8,212.3 L231.4,209.7 L234.0,208.4 L234.4,205.1 L234.0,201.8 L235.5,204.0 L237.1,206.1 L238.4,208.4 L240.6,209.9 L242.9,211.2 L245.0,212.8 L247.0,211.3 L249.3,210.4 L251.6,209.5 L253.8,210.1 L255.9,210.6 L258.2,210.6 L255.6,211.7 L253.8,213.9 L251.8,215.2 L249.2,215.1 L247.0,216.1 L244.9,217.1 L242.8,218.3 L240.5,217.8 L238.5,219.3 L236.2,218.5 L233.9,218.5 L231.8,219.4 L229.3,218.8 L227.4,217.1 L225.4,215.5 L222.9,215.0 L221.0,213.0 L219.6,210.6"/><path d="M242.8,242.2 L245.2,242.0 L247.4,241.4 L249.4,240.0 L252.3,239.9 L255.3,239.4 L258.2,240.0 L260.6,240.7 L262.7,242.2 L260.4,242.0 L258.3,243.1 L256.0,243.3 L253.8,243.9 L251.6,243.9 L249.3,243.4 L247.2,244.4 L244.8,243.7 L242.8,242.2"/><path d="M275.9,268.7 L282.5,255.4 L284.7,259.9 L280.3,264.3 L275.9,268.7"/><path d="M283.1,299.4 L285.8,299.5 L288.0,301.0 L288.4,303.5 L290.4,305.3 L291.2,307.6 L293.0,309.9 L294.5,312.5 L294.6,315.2 L296.1,317.4 L297.5,319.4 L298.9,321.4 L299.4,323.9 L296.1,326.4 L295.6,323.7 L293.6,321.6 L292.9,319.0 L291.7,317.1 L291.9,314.6 L290.0,313.0 L289.6,310.8 L288.5,308.0 L286.3,306.0 L284.9,304.1 L283.9,301.9 L283.1,299.4"/><path d="M297.8,288.8 L301.0,289.6 L301.0,292.9 L301.9,295.0 L302.6,297.1 L302.7,299.4 L303.2,302.1 L303.7,304.9 L304.3,307.6 L306.1,310.0 L307.6,312.5 L308.1,314.7 L309.0,316.8 L309.2,319.0 L307.9,321.3 L307.6,323.9 L307.5,321.2 L306.0,319.0 L305.5,316.4 L304.3,314.1 L303.1,311.6 L300.5,310.2 L299.4,307.6 L297.4,305.6 L295.8,303.5 L294.5,301.0 L293.9,297.8 L294.5,294.5 L296.7,293.4 L297.8,291.2 L297.8,288.8"/></g>
</g>
<rect x="35.5" y="129.5" width="541" height="444" fill="none" stroke="#A3AAC2" stroke-width="1"/>
<rect x="42.10" y="635" width="34.91" height="40" fill="#000096"/><rect x="77.51" y="635" width="34.66" height="40" fill="#0014FF"/><rect x="112.67" y="635" width="34.66" height="40" fill="#4287FF"/><rect x="147.83" y="635" width="34.66" height="40" fill="#87BEFF"/><rect x="182.99" y="635" width="34.66" height="40" fill="#96FFFF"/><rect x="218.15" y="635" width="34.66" height="40" fill="#FFF5CC"/><rect x="253.31" y="635" width="34.66" height="40" fill="#FFDC64"/><rect x="288.47" y="635" width="34.66" height="40" fill="#FFC800"/><rect x="323.63" y="635" width="34.66" height="40" fill="#FFAF00"/><rect x="358.79" y="635" width="34.66" height="40" fill="#FF9100"/><rect x="393.95" y="635" width="34.66" height="40" fill="#FF6400"/><rect x="429.11" y="635" width="34.66" height="40" fill="#FF3200"/><rect x="464.27" y="635" width="34.66" height="40" fill="#E60000"/><rect x="499.43" y="635" width="34.66" height="40" fill="#C80000"/><rect x="534.59" y="635" width="34.91" height="40" fill="#A02020"/><text x="77.26" y="697.2" font-size="14" text-anchor="middle">-2</text><text x="112.42" y="697.2" font-size="14" text-anchor="middle">-1.5</text><text x="147.58" y="697.2" font-size="14" text-anchor="middle">-1</text><text x="182.74" y="697.2" font-size="14" text-anchor="middle">-0.5</text><text x="217.90" y="697.2" font-size="14" text-anchor="middle">0</text><text x="253.06" y="697.2" font-size="14" text-anchor="middle">0.5</text><text x="288.22" y="697.2" font-size="14" text-anchor="middle">1</text><text x="323.38" y="697.2" font-size="14" text-anchor="middle">1.5</text><text x="358.54" y="697.2" font-size="14" text-anchor="middle">2</text><text x="393.70" y="697.2" font-size="14" text-anchor="middle">2.5</text><text x="428.86" y="697.2" font-size="14" text-anchor="middle">3</text><text x="464.02" y="697.2" font-size="14" text-anchor="middle">4</text><text x="499.18" y="697.2" font-size="14" text-anchor="middle">5</text><text x="534.34" y="697.2" font-size="14" text-anchor="middle">7</text>
</svg>
</body></html>
